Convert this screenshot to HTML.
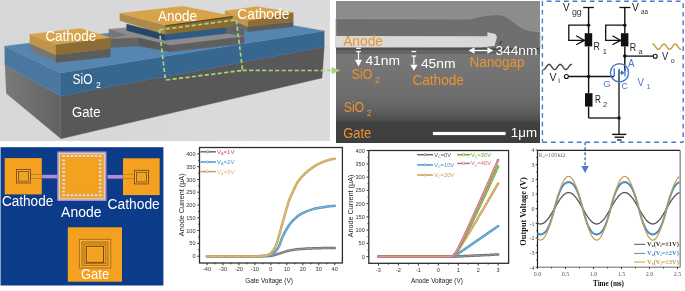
<!DOCTYPE html>
<html><head><meta charset="utf-8"><style>
html,body{margin:0;padding:0;background:#fff;}
svg{display:block;will-change:transform;}
</style></head><body>
<svg width="685" height="291" viewBox="0 0 685 291">
<rect width="685" height="291" fill="#fff"/>
<defs><linearGradient id="bgA" x1="0" y1="0" x2="1" y2="0"><stop offset="0" stop-color="#d7d7d7"/><stop offset="1" stop-color="#dbdbdb"/></linearGradient><linearGradient id="leftGate" x1="0" y1="0" x2="1" y2="0"><stop offset="0" stop-color="#7a7a7a"/><stop offset="1" stop-color="#626262"/></linearGradient><linearGradient id="semG" gradientUnits="userSpaceOnUse" x1="0" y1="1" x2="0" y2="143"><stop offset="0.44" stop-color="#767676"/><stop offset="0.66" stop-color="#6e6e6e"/><stop offset="0.76" stop-color="#626262"/><stop offset="0.845" stop-color="#4c4c4c"/><stop offset="0.852" stop-color="#414141"/><stop offset="1" stop-color="#3d3d3d"/></linearGradient></defs><rect x="0" y="0" width="330" height="141" fill="url(#bgA)"/><polygon points="4.9,64.8 60.6,96.0 60.8,138.8 6.2,93.6" fill="url(#leftGate)" /><polygon points="60.6,96.0 324.2,47.0 322.0,78.0 60.8,138.8" fill="#585858" stroke="#585858" stroke-width="0.35" stroke-linejoin="round" /><polygon points="4.7,46.2 60.4,72.9 60.6,96.0 4.9,64.8" fill="#4a77a0" stroke="#4a77a0" stroke-width="0.35" stroke-linejoin="round" /><polygon points="60.4,72.9 324.2,31.0 324.2,47.0 60.6,96.0" fill="#37668e" stroke="#37668e" stroke-width="0.35" stroke-linejoin="round" /><polygon points="4.7,46.2 241.0,16.2 324.2,31.0 60.4,72.9" fill="#5686b0" stroke="#5686b0" stroke-width="0.35" stroke-linejoin="round" /><polygon points="109.0,29.2 111.0,38.5 111.0,47.5 109.0,40.0" fill="#676767" stroke="#676767" stroke-width="0.35" stroke-linejoin="round" /><polygon points="111.0,38.5 139.0,37.5 139.0,46.0 111.0,47.5" fill="#636363" stroke="#636363" stroke-width="0.35" stroke-linejoin="round" /><polygon points="139.0,37.5 170.5,45.1 170.5,51.8 139.0,46.0" fill="#5a5a5a" stroke="#5a5a5a" stroke-width="0.35" stroke-linejoin="round" /><polygon points="170.5,45.1 244.0,36.3 244.0,43.5 170.5,51.8" fill="#5f5f5f" stroke="#5f5f5f" stroke-width="0.35" stroke-linejoin="round" /><polygon points="225.0,22.0 244.0,27.0 244.0,36.3 225.0,34.0" fill="#646464" stroke="#646464" stroke-width="0.35" stroke-linejoin="round" /><polygon points="109.0,29.2 126.6,27.7 126.6,30.4 165.3,40.3 226.0,33.6 244.0,36.3 170.5,45.1 139.0,37.5 111.0,38.5" fill="#8c8c8c" stroke="#8c8c8c" stroke-width="0.35" stroke-linejoin="round" /><polygon points="109.0,29.2 125.5,35.2 112.0,37.8" fill="#747474" stroke="#747474" stroke-width="0.35" stroke-linejoin="round" /><polygon points="29.9,43.5 56.0,54.9 56.0,62.4 29.9,50.5" fill="#767676" stroke="#767676" stroke-width="0.35" stroke-linejoin="round" /><polygon points="56.0,54.9 110.3,48.5 110.3,57.0 56.0,62.4" fill="#5c5c5c" stroke="#5c5c5c" stroke-width="0.35" stroke-linejoin="round" /><polygon points="29.9,34.3 56.0,44.5 56.0,54.9 29.9,43.5" fill="#bf9549" stroke="#bf9549" stroke-width="0.35" stroke-linejoin="round" /><polygon points="56.0,44.5 110.3,37.4 110.3,48.5 56.0,54.9" fill="#8d6d35" stroke="#8d6d35" stroke-width="0.35" stroke-linejoin="round" /><polygon points="29.9,34.3 80.5,28.4 110.3,37.4 56.0,44.5" fill="#d8a44b" stroke="#d8a44b" stroke-width="0.35" stroke-linejoin="round" /><polygon points="225.0,17.5 248.0,26.8 248.0,31.8 225.0,22.5" fill="#6a6a6a" stroke="#6a6a6a" stroke-width="0.35" stroke-linejoin="round" /><polygon points="248.0,26.8 293.2,21.7 293.2,26.7 248.0,31.8" fill="#5c5c5c" stroke="#5c5c5c" stroke-width="0.35" stroke-linejoin="round" /><polygon points="225.0,10.9 248.0,20.6 248.0,26.8 225.0,17.5" fill="#c39747" stroke="#c39747" stroke-width="0.35" stroke-linejoin="round" /><polygon points="248.0,20.6 293.2,12.4 293.2,21.7 248.0,26.8" fill="#8d6d35" stroke="#8d6d35" stroke-width="0.35" stroke-linejoin="round" /><polygon points="225.0,10.9 256.6,6.6 293.2,12.4 248.0,20.6" fill="#d8a44b" stroke="#d8a44b" stroke-width="0.35" stroke-linejoin="round" /><polygon points="126.6,24.1 165.3,34.3 165.3,40.5 126.6,30.4" fill="#284766" stroke="#284766" stroke-width="0.35" stroke-linejoin="round" /><polygon points="165.3,34.1 226.0,26.6 226.0,33.6 165.3,40.3" fill="#2f5b82" stroke="#2f5b82" stroke-width="0.35" stroke-linejoin="round" /><polygon points="119.8,13.3 165.5,25.3 165.5,34.4 119.8,20.6" fill="#ab8a4e" stroke="#ab8a4e" stroke-width="0.35" stroke-linejoin="round" /><polygon points="165.5,25.3 232.5,16.1 232.5,26.6 165.5,34.2" fill="#8c6b33" stroke="#8c6b33" stroke-width="0.35" stroke-linejoin="round" /><polygon points="119.8,13.3 182.9,6.2 232.5,16.1 165.5,25.3" fill="#d8a44b" stroke="#d8a44b" stroke-width="0.35" stroke-linejoin="round" /><line x1="165.5" y1="25.9" x2="232.5" y2="16.7" stroke="#5e4620" stroke-width="1.3"/><text x="45.4" y="40.5" font-size="14.7" fill="#fff" text-anchor="start" font-family='"Liberation Sans", sans-serif' font-weight="normal" textLength="50.9" lengthAdjust="spacingAndGlyphs" >Cathode</text><text x="158.1" y="20.5" font-size="14.7" fill="#fff" text-anchor="start" font-family='"Liberation Sans", sans-serif' font-weight="normal" textLength="39" lengthAdjust="spacingAndGlyphs" >Anode</text><text x="237.3" y="19.2" font-size="15.0" fill="#fff" text-anchor="start" font-family='"Liberation Sans", sans-serif' font-weight="normal" textLength="52" lengthAdjust="spacingAndGlyphs" >Cathode</text><text x="72.5" y="84.2" font-size="14.5" fill="#fff" text-anchor="start" font-family='"Liberation Sans", sans-serif' font-weight="normal" textLength="20" lengthAdjust="spacingAndGlyphs" >SiO</text><text x="95.9" y="87.7" font-size="8.4" fill="#fff" text-anchor="start" font-family='"Liberation Sans", sans-serif' font-weight="normal" textLength="4.8" lengthAdjust="spacingAndGlyphs" >2</text><text x="72" y="116.6" font-size="14.7" fill="#fff" text-anchor="start" font-family='"Liberation Sans", sans-serif' font-weight="normal" textLength="28.5" lengthAdjust="spacingAndGlyphs" >Gate</text><polyline points="159.4,29.8 236.3,19.8 242.6,70.4 165.4,80.1 159.4,29.8" fill="none" stroke="#a6d37c" stroke-width="1.7" stroke-dasharray="4.2,2.3"/><line x1="242.6" y1="70.4" x2="333" y2="70.5" stroke="#a6d37c" stroke-width="1.6" stroke-dasharray="4.2,2.3"/><rect x="336" y="1" width="204" height="142" fill="url(#semG)"/><rect x="336" y="1" width="204" height="34" fill="#8c8c8c"/><path d="M336,18.5 L470,18.9 C480,16 490,14.5 499,14.6 C508,15 512,22 521.5,27.5 C528,30.5 534,31.5 540,31.8 L540,48 L336,48 Z" fill="#6f6f6f" stroke="#999" stroke-width="0.8"/><path d="M336,36 L487.4,36.3 L487.4,32.3 L495.4,33.9 L497,37 L494.6,46 L480,47.6 L336,47.8 Z" fill="#d9d9d9"/><rect x="336" y="47.6" width="204" height="2.4" fill="#525252"/><rect x="336" y="50" width="204" height="4" fill="#646464"/><rect x="336" y="54" width="204" height="10" fill="#777"/><text x="343.2" y="45.7" font-size="14.0" fill="#ee9230" text-anchor="start" font-family='"Liberation Sans", sans-serif' font-weight="normal" textLength="39.8" lengthAdjust="spacingAndGlyphs" >Anode</text><text x="351.8" y="78.9" font-size="14.0" fill="#ee9230" text-anchor="start" font-family='"Liberation Sans", sans-serif' font-weight="normal" textLength="20.5" lengthAdjust="spacingAndGlyphs" >SiO</text><text x="375" y="82.6" font-size="8.5" fill="#ee9230" text-anchor="start" font-family='"Liberation Sans", sans-serif' font-weight="normal" >2</text><text x="412.4" y="84.6" font-size="14.0" fill="#ee9230" text-anchor="start" font-family='"Liberation Sans", sans-serif' font-weight="normal" textLength="51.5" lengthAdjust="spacingAndGlyphs" >Cathode</text><text x="343.7" y="112.2" font-size="14.0" fill="#ee9230" text-anchor="start" font-family='"Liberation Sans", sans-serif' font-weight="normal" textLength="20.5" lengthAdjust="spacingAndGlyphs" >SiO</text><text x="366.8" y="115.5" font-size="8.5" fill="#ee9230" text-anchor="start" font-family='"Liberation Sans", sans-serif' font-weight="normal" >2</text><text x="343.2" y="138.3" font-size="14.0" fill="#ee9230" text-anchor="start" font-family='"Liberation Sans", sans-serif' font-weight="normal" textLength="28" lengthAdjust="spacingAndGlyphs" >Gate</text><text x="469.6" y="67" font-size="14.0" fill="#ee9230" text-anchor="start" font-family='"Liberation Sans", sans-serif' font-weight="normal" textLength="54.9" lengthAdjust="spacingAndGlyphs" >Nanogap</text><text x="365.4" y="64.8" font-size="13.6" fill="#fff" text-anchor="start" font-family='"Liberation Sans", sans-serif' font-weight="normal" textLength="34.6" lengthAdjust="spacingAndGlyphs" >41nm</text><text x="420.9" y="68.4" font-size="13.6" fill="#fff" text-anchor="start" font-family='"Liberation Sans", sans-serif' font-weight="normal" textLength="34.6" lengthAdjust="spacingAndGlyphs" >45nm</text><text x="495.4" y="54.9" font-size="12.5" fill="#fff" text-anchor="start" font-family='"Liberation Sans", sans-serif' font-weight="normal" textLength="42" lengthAdjust="spacingAndGlyphs" >344nm</text><text x="510.8" y="137.2" font-size="13.1" fill="#fff" text-anchor="start" font-family='"Liberation Sans", sans-serif' font-weight="normal" textLength="26.2" lengthAdjust="spacingAndGlyphs" >1μm</text><rect x="356.2" y="47.6" width="4.6" height="1.3" fill="#fff"/><rect x="356.2" y="50.9" width="4.6" height="1.3" fill="#fff"/><line x1="358.5" y1="51.5" x2="358.5" y2="59.8" stroke="#fff" stroke-width="1.2"/><polygon points="354.9,59.8 362.1,59.8 358.5,66.4" fill="#fff"/><rect x="411.59999999999997" y="50.9" width="4.6" height="1.3" fill="#fff"/><rect x="411.59999999999997" y="55.4" width="4.6" height="1.3" fill="#fff"/><line x1="413.9" y1="56" x2="413.9" y2="64.8" stroke="#fff" stroke-width="1.2"/><polygon points="410.29999999999995,64.8 417.5,64.8 413.9,70.8" fill="#fff"/><line x1="471" y1="50.5" x2="491" y2="50.5" stroke="#fff" stroke-width="1.3"/><polygon points="468.6,50.5 474.5,47.3 474.5,53.7" fill="#fff"/><polygon points="493.3,50.5 487.4,47.3 487.4,53.7" fill="#fff"/><line x1="499.5" y1="44.4" x2="502" y2="41" stroke="#2a2a2a" stroke-width="1"/><rect x="432.9" y="131.9" width="72.7" height="3.2" fill="#fff"/><polygon points="331.5,67 340.5,70.5 331.5,74" fill="#a6d37c"/><line x1="542.4" y1="1.3" x2="683.2" y2="1.3" stroke="#4a78cc" stroke-width="1.4" stroke-dasharray="4.7,3.9" stroke-dashoffset="4.2"/><line x1="683.2" y1="1.3" x2="683.2" y2="142.3" stroke="#4a78cc" stroke-width="1.4" stroke-dasharray="4.7,3.9" stroke-dashoffset="-2"/><line x1="542.4" y1="142.3" x2="683.2" y2="142.3" stroke="#4a78cc" stroke-width="1.4" stroke-dasharray="4.7,3.9" stroke-dashoffset="0"/><line x1="542.4" y1="1.3" x2="542.4" y2="142.3" stroke="#4a78cc" stroke-width="1.4" stroke-dasharray="4.7,3.9" stroke-dashoffset="0"/><line x1="583.2" y1="7.5" x2="593.9" y2="7.5" stroke="#111" stroke-width="1.3"/><line x1="588.6" y1="7.5" x2="588.6" y2="33.2" stroke="#111" stroke-width="1.4"/><text x="563.1" y="11" font-size="11.4" fill="#222" text-anchor="start" font-family='"Liberation Sans", sans-serif' font-weight="normal" textLength="6.6" lengthAdjust="spacingAndGlyphs" >V</text><text x="571.9" y="14.9" font-size="9.5" fill="#333" text-anchor="start" font-family='"Liberation Sans", sans-serif' font-weight="normal" textLength="9.9" lengthAdjust="spacingAndGlyphs" >gg</text><line x1="619.4" y1="7.5" x2="630.4" y2="7.5" stroke="#111" stroke-width="1.3"/><line x1="624.8" y1="7.5" x2="624.8" y2="33.2" stroke="#111" stroke-width="1.4"/><text x="632" y="11" font-size="11.4" fill="#222" text-anchor="start" font-family='"Liberation Sans", sans-serif' font-weight="normal" textLength="6.8" lengthAdjust="spacingAndGlyphs" >V</text><text x="641" y="14.2" font-size="7.5" fill="#333" text-anchor="start" font-family='"Liberation Sans", sans-serif' font-weight="normal" textLength="7" lengthAdjust="spacingAndGlyphs" >aa</text><circle cx="588.6" cy="25.2" r="1.7" fill="#111"/><polyline points="588.6,25.2 568.8,25.2 568.8,40.4 584.5,40.4" fill="none" stroke="#111" stroke-width="1.3"/><polyline points="576.2,35.7 584.5,40.4 576.2,44.8" fill="none" stroke="#111" stroke-width="1.3"/><rect x="584.7" y="33.2" width="7.5" height="13.2" fill="#111"/><circle cx="624.8" cy="25.2" r="1.7" fill="#111"/><polyline points="624.8,25.2 605.7,25.2 605.7,40.4 620.6999999999999,40.4" fill="none" stroke="#111" stroke-width="1.3"/><polyline points="612.4,35.7 620.6999999999999,40.4 612.4,44.8" fill="none" stroke="#111" stroke-width="1.3"/><rect x="620.9" y="33.2" width="7.5" height="13.2" fill="#111"/><text x="593.6" y="50.3" font-size="10.5" fill="#222" text-anchor="start" font-family='"Liberation Sans", sans-serif' font-weight="normal" textLength="6.4" lengthAdjust="spacingAndGlyphs" >R</text><text x="602.7" y="53.6" font-size="7.5" fill="#333" text-anchor="start" font-family='"Liberation Sans", sans-serif' font-weight="normal" >1</text><text x="629.8" y="50.6" font-size="10.5" fill="#222" text-anchor="start" font-family='"Liberation Sans", sans-serif' font-weight="normal" textLength="6.4" lengthAdjust="spacingAndGlyphs" >R</text><text x="638.5" y="53.7" font-size="7.5" fill="#333" text-anchor="start" font-family='"Liberation Sans", sans-serif' font-weight="normal" >a</text><line x1="588.6" y1="46.4" x2="588.6" y2="93.2" stroke="#111" stroke-width="1.4"/><line x1="588.6" y1="106.6" x2="588.6" y2="118" stroke="#111" stroke-width="1.4"/><line x1="588.6" y1="118" x2="619" y2="118" stroke="#111" stroke-width="1.3"/><line x1="624.8" y1="46.4" x2="624.8" y2="71.3" stroke="#111" stroke-width="1.4"/><circle cx="624.8" cy="56.1" r="1.8" fill="#111"/><line x1="624.8" y1="56.1" x2="653.2" y2="56.1" stroke="#111" stroke-width="1.3"/><circle cx="655.2" cy="56.2" r="2" fill="#fff" stroke="#111" stroke-width="1.1"/><line x1="568.5" y1="76.5" x2="614" y2="76.5" stroke="#111" stroke-width="1.3"/><circle cx="566.4" cy="76.5" r="2" fill="#fff" stroke="#111" stroke-width="1.1"/><circle cx="588.6" cy="76.5" r="1.8" fill="#111"/><rect x="585" y="93.2" width="7.5" height="13.4" fill="#111"/><line x1="619" y1="70" x2="619" y2="134.4" stroke="#222" stroke-width="1.4"/><circle cx="619" cy="118" r="1.7" fill="#111"/><line x1="612.2" y1="134.4" x2="626.3" y2="134.4" stroke="#111" stroke-width="1.4"/><line x1="614.6" y1="137.2" x2="624" y2="137.2" stroke="#111" stroke-width="1.4"/><line x1="617" y1="140" x2="621.6" y2="140" stroke="#111" stroke-width="1.3"/><circle cx="619.5" cy="72.8" r="9.1" fill="none" stroke="#4a78cc" stroke-width="1.4"/><line x1="614.3" y1="68.2" x2="614.3" y2="75.9" stroke="#4a78cc" stroke-width="1.4"/><line x1="619.3" y1="72.8" x2="622.5" y2="72.8" stroke="#4a78cc" stroke-width="1.2"/><polygon points="621,70.3 625,72.8 621,75.3" fill="#4a78cc"/><line x1="625" y1="68.5" x2="625" y2="76.5" stroke="#4a78cc" stroke-width="1.3"/><line x1="619.3" y1="68.5" x2="619.3" y2="77" stroke="#4a78cc" stroke-width="1.3"/><text x="549.4" y="80.7" font-size="10.7" fill="#222" text-anchor="start" font-family='"Liberation Sans", sans-serif' font-weight="normal" textLength="7" lengthAdjust="spacingAndGlyphs" >V</text><text x="558.2" y="83.3" font-size="7.5" fill="#333" text-anchor="start" font-family='"Liberation Sans", sans-serif' font-weight="normal" >i</text><text x="603.2" y="86.5" font-size="9.2" fill="#4a78cc" text-anchor="start" font-family='"Liberation Sans", sans-serif' font-weight="normal" textLength="7.4" lengthAdjust="spacingAndGlyphs" >G</text><text x="621.6" y="88.6" font-size="9.4" fill="#4a78cc" text-anchor="start" font-family='"Liberation Sans", sans-serif' font-weight="normal" textLength="6.4" lengthAdjust="spacingAndGlyphs" >C</text><text x="627.9" y="66.6" font-size="10.3" fill="#4a78cc" text-anchor="start" font-family='"Liberation Sans", sans-serif' font-weight="normal" textLength="6.5" lengthAdjust="spacingAndGlyphs" >A</text><text x="637.5" y="85.5" font-size="10.6" fill="#4a78cc" text-anchor="start" font-family='"Liberation Sans", sans-serif' font-weight="normal" textLength="6.5" lengthAdjust="spacingAndGlyphs" >V</text><text x="646.6" y="88.7" font-size="7.5" fill="#4a78cc" text-anchor="start" font-family='"Liberation Sans", sans-serif' font-weight="normal" >1</text><text x="595" y="103.4" font-size="10.5" fill="#222" text-anchor="start" font-family='"Liberation Sans", sans-serif' font-weight="normal" textLength="5.9" lengthAdjust="spacingAndGlyphs" >R</text><text x="603" y="106.6" font-size="7.5" fill="#333" text-anchor="start" font-family='"Liberation Sans", sans-serif' font-weight="normal" >2</text><text x="662" y="59.9" font-size="10.4" fill="#222" text-anchor="start" font-family='"Liberation Sans", sans-serif' font-weight="normal" textLength="6.2" lengthAdjust="spacingAndGlyphs" >V</text><text x="670.7" y="63" font-size="7" fill="#333" text-anchor="start" font-family='"Liberation Sans", sans-serif' font-weight="normal" >o</text><polyline points="543.5,69.6 544.0,69.5 544.4,69.2 544.9,68.8 545.4,68.2 545.9,67.6 546.3,66.9 546.8,66.2 547.3,65.6 547.8,65.1 548.2,64.7 548.7,64.5 549.2,64.4 549.7,64.5 550.1,64.9 550.6,65.3 551.1,65.9 551.6,66.6 552.0,67.3 552.5,67.9 553.0,68.5 553.5,69.0 553.9,69.4 554.4,69.6 554.9,69.6 555.4,69.4 555.8,69.0 556.3,68.5 556.8,67.9 557.3,67.3 557.7,66.6 558.2,65.9 558.7,65.3 559.2,64.9 559.6,64.5 560.1,64.4 560.6,64.5 561.1,64.7 561.5,65.1 562.0,65.6 562.5,66.2 563.0,66.9 563.4,67.6 563.9,68.3 564.4,68.8 564.9,69.2 565.3,69.5 565.8,69.6 566.3,69.5 566.8,69.2 567.2,68.8 567.7,68.2 568.2,67.6 568.7,66.9 569.1,66.2 569.6,65.6 570.1,65.1 570.6,64.7 571.0,64.5 571.5,64.4" fill="none" stroke="#444" stroke-width="1.4" stroke-linecap="round"/><polyline points="652.7,44.1 653.2,44.1 653.6,44.4 654.1,44.8 654.6,45.4 655.1,46.1 655.5,46.8 656.0,47.4 656.5,48.1 657.0,48.6 657.4,49.0 657.9,49.3 658.4,49.3 658.9,49.2 659.3,48.9 659.8,48.5 660.3,47.9 660.8,47.2 661.2,46.5 661.7,45.9 662.2,45.2 662.7,44.7 663.1,44.3 663.6,44.1 664.1,44.1 664.6,44.2 665.0,44.5 665.5,45.0 666.0,45.6 666.5,46.3 666.9,47.0 667.4,47.6 667.9,48.3 668.4,48.8 668.8,49.1 669.3,49.3 669.8,49.3 670.3,49.2 670.7,48.8 671.2,48.3 671.7,47.7 672.2,47.0 672.6,46.3 673.1,45.7 673.6,45.1 674.1,44.6 674.5,44.2 675.0,44.1 675.5,44.1 676.0,44.3 676.4,44.6 676.9,45.2 677.4,45.8 677.9,46.5 678.3,47.2 678.8,47.8 679.3,48.4 679.8,48.9 680.2,49.2 680.7,49.3" fill="none" stroke="#c49a3c" stroke-width="1.4" stroke-linecap="round"/><line x1="585.1" y1="142.3" x2="585.1" y2="166" stroke="#4a78cc" stroke-width="1.5" stroke-dasharray="3,2"/><polygon points="581.3,166 588.8,166 585.1,172.9" fill="#4a78cc"/><rect x="0" y="147.2" width="1.2" height="138.3" fill="#8ea2c4"/><rect x="1" y="147.2" width="162.4" height="138.3" fill="#0b3b89"/><rect x="4.7" y="158.1" width="37.1" height="36.3" fill="#f4a11f"/><rect x="123" y="158.3" width="36.7" height="36.8" fill="#f4a11f"/><rect x="41.9" y="174.8" width="15.5" height="3.6" fill="#b48ad4"/><rect x="107.5" y="175" width="15.5" height="3.7" fill="#b48ad4"/><rect x="30.8" y="174.6" width="11.1" height="3.8" fill="#eea52a" stroke="#a06818" stroke-width="0.5"/><rect x="123" y="174.8" width="11.5" height="3.8" fill="#eea52a" stroke="#a06818" stroke-width="0.5"/><rect x="16.5" y="169.5" width="14" height="13.5" fill="#f3ae3a" stroke="#7a4c12" stroke-width="0.9"/><rect x="18.4" y="171.4" width="10.2" height="9.8" fill="#f0a424" stroke="#7a4c12" stroke-width="0.8"/><rect x="134.5" y="170.3" width="14" height="13.6" fill="#f3ae3a" stroke="#7a4c12" stroke-width="0.9"/><rect x="136.4" y="172.2" width="10.2" height="9.8" fill="#f0a424" stroke="#7a4c12" stroke-width="0.8"/><rect x="57.3" y="151.5" width="49.2" height="49.4" fill="#b597cf"/><rect x="58.8" y="153" width="46.2" height="46.4" fill="#e3cfae"/><rect x="60" y="154.2" width="43.8" height="44" fill="#eba032"/><rect x="62.3" y="155.1" width="2.8" height="2" rx="0.6" fill="#e8dcc0"/><rect x="62.3" y="194.2" width="2.8" height="2" rx="0.6" fill="#e8dcc0"/><rect x="66.3" y="155.1" width="2.8" height="2" rx="0.6" fill="#e8dcc0"/><rect x="66.3" y="194.2" width="2.8" height="2" rx="0.6" fill="#e8dcc0"/><rect x="70.4" y="155.1" width="2.8" height="2" rx="0.6" fill="#e8dcc0"/><rect x="70.4" y="194.2" width="2.8" height="2" rx="0.6" fill="#e8dcc0"/><rect x="74.4" y="155.1" width="2.8" height="2" rx="0.6" fill="#e8dcc0"/><rect x="74.4" y="194.2" width="2.8" height="2" rx="0.6" fill="#e8dcc0"/><rect x="78.5" y="155.1" width="2.8" height="2" rx="0.6" fill="#e8dcc0"/><rect x="78.5" y="194.2" width="2.8" height="2" rx="0.6" fill="#e8dcc0"/><rect x="82.5" y="155.1" width="2.8" height="2" rx="0.6" fill="#e8dcc0"/><rect x="82.5" y="194.2" width="2.8" height="2" rx="0.6" fill="#e8dcc0"/><rect x="86.6" y="155.1" width="2.8" height="2" rx="0.6" fill="#e8dcc0"/><rect x="86.6" y="194.2" width="2.8" height="2" rx="0.6" fill="#e8dcc0"/><rect x="90.6" y="155.1" width="2.8" height="2" rx="0.6" fill="#e8dcc0"/><rect x="90.6" y="194.2" width="2.8" height="2" rx="0.6" fill="#e8dcc0"/><rect x="94.7" y="155.1" width="2.8" height="2" rx="0.6" fill="#e8dcc0"/><rect x="94.7" y="194.2" width="2.8" height="2" rx="0.6" fill="#e8dcc0"/><rect x="98.8" y="155.1" width="2.8" height="2" rx="0.6" fill="#e8dcc0"/><rect x="98.8" y="194.2" width="2.8" height="2" rx="0.6" fill="#e8dcc0"/><rect x="62.3" y="159.4" width="2.8" height="2" rx="0.6" fill="#e8dcc0"/><rect x="98.8" y="159.4" width="2.8" height="2" rx="0.6" fill="#e8dcc0"/><rect x="62.3" y="163.3" width="2.8" height="2" rx="0.6" fill="#e8dcc0"/><rect x="98.8" y="163.3" width="2.8" height="2" rx="0.6" fill="#e8dcc0"/><rect x="62.3" y="167.2" width="2.8" height="2" rx="0.6" fill="#e8dcc0"/><rect x="98.8" y="167.2" width="2.8" height="2" rx="0.6" fill="#e8dcc0"/><rect x="62.3" y="171.1" width="2.8" height="2" rx="0.6" fill="#e8dcc0"/><rect x="98.8" y="171.1" width="2.8" height="2" rx="0.6" fill="#e8dcc0"/><rect x="62.3" y="175.0" width="2.8" height="2" rx="0.6" fill="#e8dcc0"/><rect x="98.8" y="175.0" width="2.8" height="2" rx="0.6" fill="#e8dcc0"/><rect x="62.3" y="178.9" width="2.8" height="2" rx="0.6" fill="#e8dcc0"/><rect x="98.8" y="178.9" width="2.8" height="2" rx="0.6" fill="#e8dcc0"/><rect x="62.3" y="182.8" width="2.8" height="2" rx="0.6" fill="#e8dcc0"/><rect x="98.8" y="182.8" width="2.8" height="2" rx="0.6" fill="#e8dcc0"/><rect x="62.3" y="186.7" width="2.8" height="2" rx="0.6" fill="#e8dcc0"/><rect x="98.8" y="186.7" width="2.8" height="2" rx="0.6" fill="#e8dcc0"/><rect x="62.3" y="190.6" width="2.8" height="2" rx="0.6" fill="#e8dcc0"/><rect x="98.8" y="190.6" width="2.8" height="2" rx="0.6" fill="#e8dcc0"/><rect x="66.5" y="159.5" width="31.8" height="32.3" fill="#f4a11f"/><rect x="67.8" y="227.3" width="54.2" height="54.4" fill="#f4a11f"/><rect x="79.3" y="239.3" width="31.5" height="28.7" fill="none" stroke="#9a6418" stroke-width="0.8"/><rect x="80.6" y="240.6" width="28.9" height="26.1" fill="none" stroke="#f6bb55" stroke-width="0.6"/><rect x="82" y="242" width="26.0" height="23.3" fill="none" stroke="#8e5c16" stroke-width="0.7"/><rect x="84" y="244" width="21.8" height="19.5" fill="none" stroke="#8e5c16" stroke-width="0.7"/><rect x="86.3" y="246.3" width="17.2" height="16.0" fill="none" stroke="#6e4410" stroke-width="1.0"/><rect x="87.6" y="247.6" width="14.6" height="13.4" fill="none" stroke="#f3b044" stroke-width="0.6"/><text x="1.9" y="206.1" font-size="14.9" fill="#fff" text-anchor="start" font-family='"Liberation Sans", sans-serif' font-weight="normal" textLength="51.4" lengthAdjust="spacingAndGlyphs" >Cathode</text><text x="107.6" y="208.6" font-size="14.9" fill="#fff" text-anchor="start" font-family='"Liberation Sans", sans-serif' font-weight="normal" textLength="52.2" lengthAdjust="spacingAndGlyphs" >Cathode</text><text x="61.1" y="216.7" font-size="14.9" fill="#fff" text-anchor="start" font-family='"Liberation Sans", sans-serif' font-weight="normal" textLength="40.3" lengthAdjust="spacingAndGlyphs" >Anode</text><text x="81" y="279.2" font-size="14.7" fill="#fff" text-anchor="start" font-family='"Liberation Sans", sans-serif' font-weight="normal" textLength="28.2" lengthAdjust="spacingAndGlyphs" >Gate</text>
<rect x="199.5" y="147.5" width="142.9" height="115.5" fill="none" stroke="#2e2e2e" stroke-width="1.3"/><line x1="207.0" y1="263" x2="207.0" y2="265.2" stroke="#2e2e2e" stroke-width="1"/><text x="207.0" y="270.5" font-size="5.6" fill="#333" text-anchor="middle" font-family='"Liberation Sans", sans-serif' font-weight="normal" >-40</text><line x1="215.0" y1="263" x2="215.0" y2="264.3" stroke="#2e2e2e" stroke-width="1"/><line x1="223.0" y1="263" x2="223.0" y2="265.2" stroke="#2e2e2e" stroke-width="1"/><text x="223.0" y="270.5" font-size="5.6" fill="#333" text-anchor="middle" font-family='"Liberation Sans", sans-serif' font-weight="normal" >-30</text><line x1="230.9" y1="263" x2="230.9" y2="264.3" stroke="#2e2e2e" stroke-width="1"/><line x1="238.9" y1="263" x2="238.9" y2="265.2" stroke="#2e2e2e" stroke-width="1"/><text x="238.9" y="270.5" font-size="5.6" fill="#333" text-anchor="middle" font-family='"Liberation Sans", sans-serif' font-weight="normal" >-20</text><line x1="246.9" y1="263" x2="246.9" y2="264.3" stroke="#2e2e2e" stroke-width="1"/><line x1="254.9" y1="263" x2="254.9" y2="265.2" stroke="#2e2e2e" stroke-width="1"/><text x="254.9" y="270.5" font-size="5.6" fill="#333" text-anchor="middle" font-family='"Liberation Sans", sans-serif' font-weight="normal" >-10</text><line x1="262.9" y1="263" x2="262.9" y2="264.3" stroke="#2e2e2e" stroke-width="1"/><line x1="270.9" y1="263" x2="270.9" y2="265.2" stroke="#2e2e2e" stroke-width="1"/><text x="270.9" y="270.5" font-size="5.6" fill="#333" text-anchor="middle" font-family='"Liberation Sans", sans-serif' font-weight="normal" >0</text><line x1="278.8" y1="263" x2="278.8" y2="264.3" stroke="#2e2e2e" stroke-width="1"/><line x1="286.8" y1="263" x2="286.8" y2="265.2" stroke="#2e2e2e" stroke-width="1"/><text x="286.8" y="270.5" font-size="5.6" fill="#333" text-anchor="middle" font-family='"Liberation Sans", sans-serif' font-weight="normal" >10</text><line x1="294.8" y1="263" x2="294.8" y2="264.3" stroke="#2e2e2e" stroke-width="1"/><line x1="302.8" y1="263" x2="302.8" y2="265.2" stroke="#2e2e2e" stroke-width="1"/><text x="302.8" y="270.5" font-size="5.6" fill="#333" text-anchor="middle" font-family='"Liberation Sans", sans-serif' font-weight="normal" >20</text><line x1="310.8" y1="263" x2="310.8" y2="264.3" stroke="#2e2e2e" stroke-width="1"/><line x1="318.7" y1="263" x2="318.7" y2="265.2" stroke="#2e2e2e" stroke-width="1"/><text x="318.7" y="270.5" font-size="5.6" fill="#333" text-anchor="middle" font-family='"Liberation Sans", sans-serif' font-weight="normal" >30</text><line x1="326.7" y1="263" x2="326.7" y2="264.3" stroke="#2e2e2e" stroke-width="1"/><line x1="334.7" y1="263" x2="334.7" y2="265.2" stroke="#2e2e2e" stroke-width="1"/><text x="334.7" y="270.5" font-size="5.6" fill="#333" text-anchor="middle" font-family='"Liberation Sans", sans-serif' font-weight="normal" >40</text><line x1="197.3" y1="256.2" x2="199.5" y2="256.2" stroke="#2e2e2e" stroke-width="1"/><text x="195.6" y="258.2" font-size="5.6" fill="#333" text-anchor="end" font-family='"Liberation Sans", sans-serif' font-weight="normal" >0</text><line x1="198.2" y1="249.8" x2="199.5" y2="249.8" stroke="#2e2e2e" stroke-width="1"/><line x1="197.3" y1="243.4" x2="199.5" y2="243.4" stroke="#2e2e2e" stroke-width="1"/><text x="195.6" y="245.4" font-size="5.6" fill="#333" text-anchor="end" font-family='"Liberation Sans", sans-serif' font-weight="normal" >50</text><line x1="198.2" y1="237.0" x2="199.5" y2="237.0" stroke="#2e2e2e" stroke-width="1"/><line x1="197.3" y1="230.6" x2="199.5" y2="230.6" stroke="#2e2e2e" stroke-width="1"/><text x="195.6" y="232.6" font-size="5.6" fill="#333" text-anchor="end" font-family='"Liberation Sans", sans-serif' font-weight="normal" >100</text><line x1="198.2" y1="224.2" x2="199.5" y2="224.2" stroke="#2e2e2e" stroke-width="1"/><line x1="197.3" y1="217.8" x2="199.5" y2="217.8" stroke="#2e2e2e" stroke-width="1"/><text x="195.6" y="219.8" font-size="5.6" fill="#333" text-anchor="end" font-family='"Liberation Sans", sans-serif' font-weight="normal" >150</text><line x1="198.2" y1="211.4" x2="199.5" y2="211.4" stroke="#2e2e2e" stroke-width="1"/><line x1="197.3" y1="205.0" x2="199.5" y2="205.0" stroke="#2e2e2e" stroke-width="1"/><text x="195.6" y="207.0" font-size="5.6" fill="#333" text-anchor="end" font-family='"Liberation Sans", sans-serif' font-weight="normal" >200</text><line x1="198.2" y1="198.6" x2="199.5" y2="198.6" stroke="#2e2e2e" stroke-width="1"/><line x1="197.3" y1="192.2" x2="199.5" y2="192.2" stroke="#2e2e2e" stroke-width="1"/><text x="195.6" y="194.2" font-size="5.6" fill="#333" text-anchor="end" font-family='"Liberation Sans", sans-serif' font-weight="normal" >250</text><line x1="198.2" y1="185.9" x2="199.5" y2="185.9" stroke="#2e2e2e" stroke-width="1"/><line x1="197.3" y1="179.5" x2="199.5" y2="179.5" stroke="#2e2e2e" stroke-width="1"/><text x="195.6" y="181.5" font-size="5.6" fill="#333" text-anchor="end" font-family='"Liberation Sans", sans-serif' font-weight="normal" >300</text><line x1="198.2" y1="173.1" x2="199.5" y2="173.1" stroke="#2e2e2e" stroke-width="1"/><line x1="197.3" y1="166.7" x2="199.5" y2="166.7" stroke="#2e2e2e" stroke-width="1"/><text x="195.6" y="168.7" font-size="5.6" fill="#333" text-anchor="end" font-family='"Liberation Sans", sans-serif' font-weight="normal" >350</text><line x1="198.2" y1="160.3" x2="199.5" y2="160.3" stroke="#2e2e2e" stroke-width="1"/><line x1="197.3" y1="153.9" x2="199.5" y2="153.9" stroke="#2e2e2e" stroke-width="1"/><text x="195.6" y="155.9" font-size="5.6" fill="#333" text-anchor="end" font-family='"Liberation Sans", sans-serif' font-weight="normal" >400</text><text x="269" y="282.5" font-size="6.6" fill="#222" text-anchor="middle" font-family='"Liberation Sans", sans-serif' font-weight="normal" textLength="47.7" lengthAdjust="spacingAndGlyphs" >Gate Voltage (V)</text><text transform="translate(184.2,204.8) rotate(-90)" font-size="6.6" fill="#222" text-anchor="middle" font-family='"Liberation Sans", sans-serif' textLength="62.7" lengthAdjust="spacingAndGlyphs">Anode Current  (μA)</text><polyline points="207.0,256.2 208.1,256.2 209.1,256.2 210.2,256.2 211.3,256.2 212.4,256.2 213.4,256.2 214.5,256.2 215.6,256.2 216.7,256.2 217.7,256.2 218.8,256.2 219.9,256.2 221.0,256.2 222.0,256.2 223.1,256.2 224.2,256.2 225.2,256.2 226.3,256.2 227.4,256.2 228.5,256.2 229.5,256.2 230.6,256.2 231.7,256.2 232.8,256.2 233.8,256.2 234.9,256.2 236.0,256.2 237.0,256.2 238.1,256.2 239.2,256.2 240.3,256.2 241.3,256.2 242.4,256.2 243.5,256.2 244.6,256.2 245.6,256.2 246.7,256.2 247.8,256.2 248.9,256.2 249.9,256.2 251.0,256.2 252.1,256.2 253.1,256.2 254.2,256.2 255.3,256.2 256.4,256.2 257.4,256.2 258.5,256.2 259.6,256.2 260.7,256.2 261.7,256.2 262.8,256.2 263.9,256.1 264.9,256.1 266.0,256.1 267.1,256.1 268.2,256.1 269.2,256.0 270.3,255.9 271.4,255.7 272.5,255.5 273.5,255.3 274.6,255.0 275.7,254.7 276.8,254.3 277.8,254.0 278.9,253.7 280.0,253.3 281.0,253.0 282.1,252.6 283.2,252.3 284.3,251.9 285.3,251.6 286.4,251.2 287.5,250.9 288.6,250.7 289.6,250.5 290.7,250.3 291.8,250.1 292.9,249.9 293.9,249.7 295.0,249.6 296.1,249.5 297.1,249.3 298.2,249.2 299.3,249.1 300.4,249.0 301.4,249.0 302.5,248.9 303.6,248.8 304.7,248.7 305.7,248.7 306.8,248.6 307.9,248.5 308.9,248.5 310.0,248.5 311.1,248.4 312.2,248.4 313.2,248.3 314.3,248.3 315.4,248.3 316.5,248.2 317.5,248.2 318.6,248.2 319.7,248.2 320.8,248.2 321.8,248.1 322.9,248.1 324.0,248.1 325.0,248.1 326.1,248.1 327.2,248.1 328.3,248.1 329.3,248.0 330.4,248.0 331.5,248.0 332.6,248.0 333.6,248.0 334.7,248.0" fill="none" stroke="#6a6a6a" stroke-width="2.5" stroke-linejoin="round" stroke-linecap="round"/><polyline points="207.0,256.2 208.1,256.2 209.1,256.2 210.2,256.2 211.3,256.2 212.4,256.2 213.4,256.2 214.5,256.2 215.6,256.2 216.7,256.2 217.7,256.2 218.8,256.2 219.9,256.2 221.0,256.2 222.0,256.2 223.1,256.2 224.2,256.2 225.2,256.2 226.3,256.2 227.4,256.2 228.5,256.2 229.5,256.2 230.6,256.2 231.7,256.2 232.8,256.2 233.8,256.2 234.9,256.2 236.0,256.2 237.0,256.2 238.1,256.2 239.2,256.2 240.3,256.2 241.3,256.2 242.4,256.2 243.5,256.2 244.6,256.2 245.6,256.2 246.7,256.2 247.8,256.2 248.9,256.2 249.9,256.2 251.0,256.2 252.1,256.2 253.1,256.2 254.2,256.2 255.3,256.2 256.4,256.2 257.4,256.2 258.5,256.2 259.6,256.2 260.7,256.2 261.7,256.2 262.8,256.2 263.9,256.1 264.9,256.1 266.0,256.1 267.1,256.1 268.2,256.1 269.2,256.0 270.3,255.9 271.4,255.7 272.5,255.5 273.5,255.3 274.6,255.0 275.7,254.7 276.8,254.3 277.8,254.0 278.9,253.7 280.0,253.3 281.0,253.0 282.1,252.6 283.2,252.3 284.3,251.9 285.3,251.6 286.4,251.2 287.5,250.9 288.6,250.7 289.6,250.5 290.7,250.3 291.8,250.1 292.9,249.9 293.9,249.7 295.0,249.6 296.1,249.5 297.1,249.3 298.2,249.2 299.3,249.1 300.4,249.0 301.4,249.0 302.5,248.9 303.6,248.8 304.7,248.7 305.7,248.7 306.8,248.6 307.9,248.5 308.9,248.5 310.0,248.5 311.1,248.4 312.2,248.4 313.2,248.3 314.3,248.3 315.4,248.3 316.5,248.2 317.5,248.2 318.6,248.2 319.7,248.2 320.8,248.2 321.8,248.1 322.9,248.1 324.0,248.1 325.0,248.1 326.1,248.1 327.2,248.1 328.3,248.1 329.3,248.0 330.4,248.0 331.5,248.0 332.6,248.0 333.6,248.0 334.7,248.0" fill="none" stroke="#fff" stroke-opacity="0.5" stroke-width="1.0" stroke-dasharray="1.1,0.5"/><polyline points="207.0,256.2 208.1,256.2 209.1,256.2 210.2,256.2 211.3,256.2 212.4,256.2 213.4,256.2 214.5,256.2 215.6,256.2 216.7,256.2 217.7,256.2 218.8,256.2 219.9,256.2 221.0,256.2 222.0,256.2 223.1,256.2 224.2,256.2 225.2,256.2 226.3,256.2 227.4,256.2 228.5,256.2 229.5,256.2 230.6,256.2 231.7,256.2 232.8,256.2 233.8,256.2 234.9,256.2 236.0,256.2 237.0,256.2 238.1,256.2 239.2,256.2 240.3,256.2 241.3,256.2 242.4,256.2 243.5,256.2 244.6,256.2 245.6,256.2 246.7,256.2 247.8,256.2 248.9,256.2 249.9,256.2 251.0,256.2 252.1,256.2 253.1,256.2 254.2,256.2 255.3,256.2 256.4,256.2 257.4,256.2 258.5,256.2 259.6,256.2 260.7,256.1 261.7,256.1 262.8,256.1 263.9,256.0 264.9,256.0 266.0,255.9 267.1,255.9 268.2,255.7 269.2,255.4 270.3,255.1 271.4,254.7 272.5,254.0 273.5,253.1 274.6,252.1 275.7,251.0 276.8,249.8 277.8,248.3 278.9,246.4 280.0,243.8 281.0,240.8 282.1,238.0 283.2,235.6 284.3,233.4 285.3,231.4 286.4,229.5 287.5,227.7 288.6,226.0 289.6,224.5 290.7,223.1 291.8,221.8 292.9,220.7 293.9,219.6 295.0,218.6 296.1,217.6 297.1,216.7 298.2,215.8 299.3,215.1 300.4,214.4 301.4,213.7 302.5,213.1 303.6,212.6 304.7,212.1 305.7,211.7 306.8,211.2 307.9,210.8 308.9,210.4 310.0,210.1 311.1,209.7 312.2,209.4 313.2,209.1 314.3,208.8 315.4,208.5 316.5,208.3 317.5,208.1 318.6,207.9 319.7,207.7 320.8,207.5 321.8,207.4 322.9,207.2 324.0,207.0 325.0,206.9 326.1,206.7 327.2,206.6 328.3,206.5 329.3,206.3 330.4,206.2 331.5,206.1 332.6,206.0 333.6,205.9 334.7,205.8" fill="none" stroke="#4d93c4" stroke-width="2.5" stroke-linejoin="round" stroke-linecap="round"/><polyline points="207.0,256.2 208.1,256.2 209.1,256.2 210.2,256.2 211.3,256.2 212.4,256.2 213.4,256.2 214.5,256.2 215.6,256.2 216.7,256.2 217.7,256.2 218.8,256.2 219.9,256.2 221.0,256.2 222.0,256.2 223.1,256.2 224.2,256.2 225.2,256.2 226.3,256.2 227.4,256.2 228.5,256.2 229.5,256.2 230.6,256.2 231.7,256.2 232.8,256.2 233.8,256.2 234.9,256.2 236.0,256.2 237.0,256.2 238.1,256.2 239.2,256.2 240.3,256.2 241.3,256.2 242.4,256.2 243.5,256.2 244.6,256.2 245.6,256.2 246.7,256.2 247.8,256.2 248.9,256.2 249.9,256.2 251.0,256.2 252.1,256.2 253.1,256.2 254.2,256.2 255.3,256.2 256.4,256.2 257.4,256.2 258.5,256.2 259.6,256.2 260.7,256.1 261.7,256.1 262.8,256.1 263.9,256.0 264.9,256.0 266.0,255.9 267.1,255.9 268.2,255.7 269.2,255.4 270.3,255.1 271.4,254.7 272.5,254.0 273.5,253.1 274.6,252.1 275.7,251.0 276.8,249.8 277.8,248.3 278.9,246.4 280.0,243.8 281.0,240.8 282.1,238.0 283.2,235.6 284.3,233.4 285.3,231.4 286.4,229.5 287.5,227.7 288.6,226.0 289.6,224.5 290.7,223.1 291.8,221.8 292.9,220.7 293.9,219.6 295.0,218.6 296.1,217.6 297.1,216.7 298.2,215.8 299.3,215.1 300.4,214.4 301.4,213.7 302.5,213.1 303.6,212.6 304.7,212.1 305.7,211.7 306.8,211.2 307.9,210.8 308.9,210.4 310.0,210.1 311.1,209.7 312.2,209.4 313.2,209.1 314.3,208.8 315.4,208.5 316.5,208.3 317.5,208.1 318.6,207.9 319.7,207.7 320.8,207.5 321.8,207.4 322.9,207.2 324.0,207.0 325.0,206.9 326.1,206.7 327.2,206.6 328.3,206.5 329.3,206.3 330.4,206.2 331.5,206.1 332.6,206.0 333.6,205.9 334.7,205.8" fill="none" stroke="#fff" stroke-opacity="0.5" stroke-width="1.0" stroke-dasharray="1.1,0.5"/><polyline points="207.0,256.2 208.1,256.2 209.1,256.2 210.2,256.2 211.3,256.2 212.4,256.2 213.4,256.2 214.5,256.2 215.6,256.2 216.7,256.2 217.7,256.2 218.8,256.2 219.9,256.2 221.0,256.2 222.0,256.2 223.1,256.2 224.2,256.2 225.2,256.2 226.3,256.2 227.4,256.2 228.5,256.2 229.5,256.2 230.6,256.2 231.7,256.2 232.8,256.2 233.8,256.2 234.9,256.2 236.0,256.2 237.0,256.2 238.1,256.2 239.2,256.2 240.3,256.2 241.3,256.2 242.4,256.2 243.5,256.2 244.6,256.2 245.6,256.2 246.7,256.2 247.8,256.2 248.9,256.2 249.9,256.2 251.0,256.2 252.1,256.2 253.1,256.2 254.2,256.2 255.3,256.2 256.4,256.2 257.4,256.2 258.5,256.2 259.6,256.1 260.7,256.1 261.7,256.0 262.8,256.0 263.9,255.9 264.9,255.7 266.0,255.4 267.1,255.1 268.2,254.6 269.2,254.1 270.3,253.5 271.4,252.6 272.5,251.4 273.5,250.0 274.6,248.2 275.7,246.0 276.8,243.5 277.8,240.1 278.9,236.2 280.0,232.4 281.0,228.5 282.1,224.4 283.2,220.5 284.3,216.7 285.3,213.0 286.4,209.2 287.5,205.4 288.6,201.9 289.6,199.0 290.7,196.6 291.8,194.2 292.9,191.8 293.9,189.4 295.0,187.1 296.1,185.0 297.1,183.0 298.2,181.3 299.3,179.9 300.4,178.5 301.4,177.3 302.5,176.1 303.6,175.0 304.7,173.9 305.7,172.9 306.8,172.0 307.9,171.1 308.9,170.3 310.0,169.4 311.1,168.6 312.2,167.9 313.2,167.1 314.3,166.4 315.4,165.7 316.5,165.1 317.5,164.4 318.6,163.9 319.7,163.3 320.8,162.9 321.8,162.4 322.9,162.0 324.0,161.6 325.0,161.2 326.1,160.8 327.2,160.5 328.3,160.2 329.3,159.8 330.4,159.6 331.5,159.3 332.6,159.1 333.6,158.9 334.7,158.7" fill="none" stroke="#c9a04e" stroke-width="2.5" stroke-linejoin="round" stroke-linecap="round"/><polyline points="207.0,256.2 208.1,256.2 209.1,256.2 210.2,256.2 211.3,256.2 212.4,256.2 213.4,256.2 214.5,256.2 215.6,256.2 216.7,256.2 217.7,256.2 218.8,256.2 219.9,256.2 221.0,256.2 222.0,256.2 223.1,256.2 224.2,256.2 225.2,256.2 226.3,256.2 227.4,256.2 228.5,256.2 229.5,256.2 230.6,256.2 231.7,256.2 232.8,256.2 233.8,256.2 234.9,256.2 236.0,256.2 237.0,256.2 238.1,256.2 239.2,256.2 240.3,256.2 241.3,256.2 242.4,256.2 243.5,256.2 244.6,256.2 245.6,256.2 246.7,256.2 247.8,256.2 248.9,256.2 249.9,256.2 251.0,256.2 252.1,256.2 253.1,256.2 254.2,256.2 255.3,256.2 256.4,256.2 257.4,256.2 258.5,256.2 259.6,256.1 260.7,256.1 261.7,256.0 262.8,256.0 263.9,255.9 264.9,255.7 266.0,255.4 267.1,255.1 268.2,254.6 269.2,254.1 270.3,253.5 271.4,252.6 272.5,251.4 273.5,250.0 274.6,248.2 275.7,246.0 276.8,243.5 277.8,240.1 278.9,236.2 280.0,232.4 281.0,228.5 282.1,224.4 283.2,220.5 284.3,216.7 285.3,213.0 286.4,209.2 287.5,205.4 288.6,201.9 289.6,199.0 290.7,196.6 291.8,194.2 292.9,191.8 293.9,189.4 295.0,187.1 296.1,185.0 297.1,183.0 298.2,181.3 299.3,179.9 300.4,178.5 301.4,177.3 302.5,176.1 303.6,175.0 304.7,173.9 305.7,172.9 306.8,172.0 307.9,171.1 308.9,170.3 310.0,169.4 311.1,168.6 312.2,167.9 313.2,167.1 314.3,166.4 315.4,165.7 316.5,165.1 317.5,164.4 318.6,163.9 319.7,163.3 320.8,162.9 321.8,162.4 322.9,162.0 324.0,161.6 325.0,161.2 326.1,160.8 327.2,160.5 328.3,160.2 329.3,159.8 330.4,159.6 331.5,159.3 332.6,159.1 333.6,158.9 334.7,158.7" fill="none" stroke="#fff" stroke-opacity="0.5" stroke-width="1.0" stroke-dasharray="1.1,0.5"/><line x1="200.4" y1="151.8" x2="215.9" y2="151.8" stroke="#6a6a6a" stroke-width="1.5"/><circle cx="207.8" cy="151.8" r="1.2" fill="#fff" stroke="#6a6a6a" stroke-width="0.7"/><line x1="200.4" y1="162" x2="215.9" y2="162" stroke="#4d93c4" stroke-width="1.5"/><circle cx="207.8" cy="162" r="1.2" fill="#fff" stroke="#4d93c4" stroke-width="0.7"/><line x1="200.4" y1="171.6" x2="215.9" y2="171.6" stroke="#c9a04e" stroke-width="1.5"/><circle cx="207.8" cy="171.6" r="1.2" fill="#fff" stroke="#c9a04e" stroke-width="0.7"/><text x="217.1" y="153.8" font-size="5.8" fill="#c0505a" text-anchor="start" font-family='"Liberation Sans", sans-serif' font-weight="normal" textLength="17.4" lengthAdjust="spacingAndGlyphs" >V<tspan font-size="3.6" dy="1.2">A</tspan><tspan dy="-1.2">=1V</tspan></text><text x="217.1" y="164.0" font-size="5.8" fill="#4d93c4" text-anchor="start" font-family='"Liberation Sans", sans-serif' font-weight="normal" textLength="17.4" lengthAdjust="spacingAndGlyphs" >V<tspan font-size="3.6" dy="1.2">A</tspan><tspan dy="-1.2">=2V</tspan></text><text x="217.1" y="173.6" font-size="5.8" fill="#d8b878" text-anchor="start" font-family='"Liberation Sans", sans-serif' font-weight="normal" textLength="17.4" lengthAdjust="spacingAndGlyphs" >V<tspan font-size="3.6" dy="1.2">A</tspan><tspan dy="-1.2">=3V</tspan></text><rect x="368.8" y="150.5" width="139.8" height="112.8" fill="none" stroke="#2e2e2e" stroke-width="1.3"/><line x1="378.5" y1="263.3" x2="378.5" y2="265.5" stroke="#2e2e2e" stroke-width="1"/><text x="378.5" y="271.7" font-size="5.6" fill="#333" text-anchor="middle" font-family='"Liberation Sans", sans-serif' font-weight="normal" >-3</text><line x1="388.4" y1="263.3" x2="388.4" y2="264.6" stroke="#2e2e2e" stroke-width="1"/><line x1="398.4" y1="263.3" x2="398.4" y2="265.5" stroke="#2e2e2e" stroke-width="1"/><text x="398.4" y="271.7" font-size="5.6" fill="#333" text-anchor="middle" font-family='"Liberation Sans", sans-serif' font-weight="normal" >-2</text><line x1="408.4" y1="263.3" x2="408.4" y2="264.6" stroke="#2e2e2e" stroke-width="1"/><line x1="418.4" y1="263.3" x2="418.4" y2="265.5" stroke="#2e2e2e" stroke-width="1"/><text x="418.4" y="271.7" font-size="5.6" fill="#333" text-anchor="middle" font-family='"Liberation Sans", sans-serif' font-weight="normal" >-1</text><line x1="428.3" y1="263.3" x2="428.3" y2="264.6" stroke="#2e2e2e" stroke-width="1"/><line x1="438.3" y1="263.3" x2="438.3" y2="265.5" stroke="#2e2e2e" stroke-width="1"/><text x="438.3" y="271.7" font-size="5.6" fill="#333" text-anchor="middle" font-family='"Liberation Sans", sans-serif' font-weight="normal" >0</text><line x1="448.3" y1="263.3" x2="448.3" y2="264.6" stroke="#2e2e2e" stroke-width="1"/><line x1="458.2" y1="263.3" x2="458.2" y2="265.5" stroke="#2e2e2e" stroke-width="1"/><text x="458.2" y="271.7" font-size="5.6" fill="#333" text-anchor="middle" font-family='"Liberation Sans", sans-serif' font-weight="normal" >1</text><line x1="468.2" y1="263.3" x2="468.2" y2="264.6" stroke="#2e2e2e" stroke-width="1"/><line x1="478.2" y1="263.3" x2="478.2" y2="265.5" stroke="#2e2e2e" stroke-width="1"/><text x="478.2" y="271.7" font-size="5.6" fill="#333" text-anchor="middle" font-family='"Liberation Sans", sans-serif' font-weight="normal" >2</text><line x1="488.2" y1="263.3" x2="488.2" y2="264.6" stroke="#2e2e2e" stroke-width="1"/><line x1="498.1" y1="263.3" x2="498.1" y2="265.5" stroke="#2e2e2e" stroke-width="1"/><text x="498.1" y="271.7" font-size="5.6" fill="#333" text-anchor="middle" font-family='"Liberation Sans", sans-serif' font-weight="normal" >3</text><line x1="366.6" y1="256.6" x2="368.8" y2="256.6" stroke="#2e2e2e" stroke-width="1"/><text x="364.8" y="258.6" font-size="5.6" fill="#333" text-anchor="end" font-family='"Liberation Sans", sans-serif' font-weight="normal" >0</text><line x1="367.5" y1="250.0" x2="368.8" y2="250.0" stroke="#2e2e2e" stroke-width="1"/><line x1="366.6" y1="243.4" x2="368.8" y2="243.4" stroke="#2e2e2e" stroke-width="1"/><text x="364.8" y="245.4" font-size="5.6" fill="#333" text-anchor="end" font-family='"Liberation Sans", sans-serif' font-weight="normal" >50</text><line x1="367.5" y1="236.7" x2="368.8" y2="236.7" stroke="#2e2e2e" stroke-width="1"/><line x1="366.6" y1="230.1" x2="368.8" y2="230.1" stroke="#2e2e2e" stroke-width="1"/><text x="364.8" y="232.1" font-size="5.6" fill="#333" text-anchor="end" font-family='"Liberation Sans", sans-serif' font-weight="normal" >100</text><line x1="367.5" y1="223.5" x2="368.8" y2="223.5" stroke="#2e2e2e" stroke-width="1"/><line x1="366.6" y1="216.9" x2="368.8" y2="216.9" stroke="#2e2e2e" stroke-width="1"/><text x="364.8" y="218.9" font-size="5.6" fill="#333" text-anchor="end" font-family='"Liberation Sans", sans-serif' font-weight="normal" >150</text><line x1="367.5" y1="210.2" x2="368.8" y2="210.2" stroke="#2e2e2e" stroke-width="1"/><line x1="366.6" y1="203.6" x2="368.8" y2="203.6" stroke="#2e2e2e" stroke-width="1"/><text x="364.8" y="205.6" font-size="5.6" fill="#333" text-anchor="end" font-family='"Liberation Sans", sans-serif' font-weight="normal" >200</text><line x1="367.5" y1="197.0" x2="368.8" y2="197.0" stroke="#2e2e2e" stroke-width="1"/><line x1="366.6" y1="190.4" x2="368.8" y2="190.4" stroke="#2e2e2e" stroke-width="1"/><text x="364.8" y="192.4" font-size="5.6" fill="#333" text-anchor="end" font-family='"Liberation Sans", sans-serif' font-weight="normal" >250</text><line x1="367.5" y1="183.7" x2="368.8" y2="183.7" stroke="#2e2e2e" stroke-width="1"/><line x1="366.6" y1="177.1" x2="368.8" y2="177.1" stroke="#2e2e2e" stroke-width="1"/><text x="364.8" y="179.1" font-size="5.6" fill="#333" text-anchor="end" font-family='"Liberation Sans", sans-serif' font-weight="normal" >300</text><line x1="367.5" y1="170.5" x2="368.8" y2="170.5" stroke="#2e2e2e" stroke-width="1"/><line x1="366.6" y1="163.9" x2="368.8" y2="163.9" stroke="#2e2e2e" stroke-width="1"/><text x="364.8" y="165.9" font-size="5.6" fill="#333" text-anchor="end" font-family='"Liberation Sans", sans-serif' font-weight="normal" >350</text><line x1="367.5" y1="157.2" x2="368.8" y2="157.2" stroke="#2e2e2e" stroke-width="1"/><line x1="366.6" y1="150.6" x2="368.8" y2="150.6" stroke="#2e2e2e" stroke-width="1"/><text x="364.8" y="152.6" font-size="5.6" fill="#333" text-anchor="end" font-family='"Liberation Sans", sans-serif' font-weight="normal" >400</text><text x="436.9" y="282.9" font-size="6.6" fill="#222" text-anchor="middle" font-family='"Liberation Sans", sans-serif' font-weight="normal" textLength="52" lengthAdjust="spacingAndGlyphs" >Anode Voltage (V)</text><text transform="translate(353.3,206) rotate(-90)" font-size="6.6" fill="#222" text-anchor="middle" font-family='"Liberation Sans", sans-serif' textLength="62.7" lengthAdjust="spacingAndGlyphs">Anode Current  (μA)</text><polyline points="378.5,256.6 379.0,256.6 379.5,256.6 380.0,256.6 380.5,256.6 381.0,256.6 381.5,256.6 382.0,256.6 382.5,256.6 383.0,256.6 383.5,256.6 384.0,256.6 384.5,256.6 385.0,256.6 385.5,256.6 386.0,256.6 386.5,256.6 387.0,256.6 387.5,256.6 388.0,256.6 388.5,256.6 389.0,256.6 389.5,256.6 390.0,256.6 390.5,256.6 391.0,256.6 391.5,256.6 392.0,256.6 392.5,256.6 393.0,256.6 393.5,256.6 394.0,256.6 394.5,256.6 395.0,256.6 395.5,256.6 396.0,256.6 396.5,256.6 397.0,256.6 397.5,256.6 398.0,256.6 398.5,256.6 399.0,256.6 399.5,256.6 400.0,256.6 400.5,256.6 401.0,256.6 401.5,256.6 402.0,256.6 402.5,256.6 403.0,256.6 403.5,256.6 404.0,256.6 404.5,256.6 405.0,256.6 405.5,256.6 406.0,256.6 406.5,256.6 407.0,256.6 407.5,256.6 408.0,256.6 408.5,256.6 409.0,256.6 409.5,256.6 410.0,256.6 410.5,256.6 411.0,256.6 411.5,256.6 412.0,256.6 412.5,256.6 413.0,256.6 413.5,256.6 414.0,256.6 414.5,256.6 415.0,256.6 415.5,256.6 416.0,256.6 416.5,256.6 417.0,256.6 417.5,256.6 418.0,256.6 418.5,256.6 419.0,256.6 419.5,256.6 420.0,256.6 420.5,256.6 421.0,256.6 421.5,256.6 422.0,256.6 422.5,256.6 423.0,256.6 423.5,256.6 424.0,256.6 424.5,256.6 425.0,256.6 425.5,256.6 426.0,256.6 426.5,256.6 427.0,256.6 427.5,256.6 428.0,256.6 428.5,256.6 429.0,256.6 429.5,256.6 430.0,256.6 430.5,256.6 431.0,256.6 431.5,256.6 432.0,256.6 432.5,256.6 433.0,256.6 433.5,256.6 434.0,256.6 434.5,256.6 435.0,256.6 435.5,256.6 436.0,256.6 436.5,256.6 437.0,256.6 437.5,256.6 438.0,256.6 438.6,256.6 439.1,256.6 439.6,256.6 440.1,256.6 440.6,256.6 441.1,256.6 441.6,256.6 442.1,256.6 442.6,256.6 443.1,256.6 443.6,256.6 444.1,256.6 444.6,256.6 445.1,256.6 445.6,256.6 446.1,256.6 446.6,256.6 447.1,256.6 447.6,256.6 448.1,256.6 448.6,256.6 449.1,256.6 449.6,256.6 450.1,256.6 450.6,256.6 451.1,256.6 451.6,256.6 452.1,256.6 452.6,256.6 453.1,256.6 453.6,256.6 454.1,256.6 454.6,256.5 455.1,256.5 455.6,256.5 456.1,256.5 456.6,256.5 457.1,256.4 457.6,256.4 458.1,256.4 458.6,256.4 459.1,256.3 459.6,256.3 460.1,256.3 460.6,256.3 461.1,256.3 461.6,256.2 462.1,256.2 462.6,256.2 463.1,256.2 463.6,256.1 464.1,256.1 464.6,256.1 465.1,256.1 465.6,256.0 466.1,256.0 466.6,256.0 467.1,256.0 467.6,255.9 468.1,255.9 468.6,255.9 469.1,255.9 469.6,255.8 470.1,255.8 470.6,255.8 471.1,255.8 471.6,255.8 472.1,255.7 472.6,255.7 473.1,255.7 473.6,255.7 474.1,255.6 474.6,255.6 475.1,255.6 475.6,255.6 476.1,255.5 476.6,255.5 477.1,255.5 477.6,255.5 478.1,255.4 478.6,255.4 479.1,255.4 479.6,255.4 480.1,255.3 480.6,255.3 481.1,255.3 481.6,255.3 482.1,255.2 482.6,255.2 483.1,255.2 483.6,255.2 484.1,255.2 484.6,255.1 485.1,255.1 485.6,255.1 486.1,255.1 486.6,255.0 487.1,255.0 487.6,255.0 488.1,255.0 488.6,254.9 489.1,254.9 489.6,254.9 490.1,254.9 490.6,254.8 491.1,254.8 491.6,254.8 492.1,254.8 492.6,254.7 493.1,254.7 493.6,254.7 494.1,254.7 494.6,254.6 495.1,254.6 495.6,254.6 496.1,254.6 496.6,254.6 497.1,254.5 497.6,254.5 498.1,254.5" fill="none" stroke="#6a6a6a" stroke-width="2.5" stroke-linejoin="round" stroke-linecap="round"/><polyline points="378.5,256.6 379.0,256.6 379.5,256.6 380.0,256.6 380.5,256.6 381.0,256.6 381.5,256.6 382.0,256.6 382.5,256.6 383.0,256.6 383.5,256.6 384.0,256.6 384.5,256.6 385.0,256.6 385.5,256.6 386.0,256.6 386.5,256.6 387.0,256.6 387.5,256.6 388.0,256.6 388.5,256.6 389.0,256.6 389.5,256.6 390.0,256.6 390.5,256.6 391.0,256.6 391.5,256.6 392.0,256.6 392.5,256.6 393.0,256.6 393.5,256.6 394.0,256.6 394.5,256.6 395.0,256.6 395.5,256.6 396.0,256.6 396.5,256.6 397.0,256.6 397.5,256.6 398.0,256.6 398.5,256.6 399.0,256.6 399.5,256.6 400.0,256.6 400.5,256.6 401.0,256.6 401.5,256.6 402.0,256.6 402.5,256.6 403.0,256.6 403.5,256.6 404.0,256.6 404.5,256.6 405.0,256.6 405.5,256.6 406.0,256.6 406.5,256.6 407.0,256.6 407.5,256.6 408.0,256.6 408.5,256.6 409.0,256.6 409.5,256.6 410.0,256.6 410.5,256.6 411.0,256.6 411.5,256.6 412.0,256.6 412.5,256.6 413.0,256.6 413.5,256.6 414.0,256.6 414.5,256.6 415.0,256.6 415.5,256.6 416.0,256.6 416.5,256.6 417.0,256.6 417.5,256.6 418.0,256.6 418.5,256.6 419.0,256.6 419.5,256.6 420.0,256.6 420.5,256.6 421.0,256.6 421.5,256.6 422.0,256.6 422.5,256.6 423.0,256.6 423.5,256.6 424.0,256.6 424.5,256.6 425.0,256.6 425.5,256.6 426.0,256.6 426.5,256.6 427.0,256.6 427.5,256.6 428.0,256.6 428.5,256.6 429.0,256.6 429.5,256.6 430.0,256.6 430.5,256.6 431.0,256.6 431.5,256.6 432.0,256.6 432.5,256.6 433.0,256.6 433.5,256.6 434.0,256.6 434.5,256.6 435.0,256.6 435.5,256.6 436.0,256.6 436.5,256.6 437.0,256.6 437.5,256.6 438.0,256.6 438.6,256.6 439.1,256.6 439.6,256.6 440.1,256.6 440.6,256.6 441.1,256.6 441.6,256.6 442.1,256.6 442.6,256.6 443.1,256.6 443.6,256.6 444.1,256.6 444.6,256.6 445.1,256.6 445.6,256.6 446.1,256.6 446.6,256.6 447.1,256.6 447.6,256.6 448.1,256.6 448.6,256.6 449.1,256.6 449.6,256.6 450.1,256.6 450.6,256.6 451.1,256.6 451.6,256.6 452.1,256.6 452.6,256.6 453.1,256.6 453.6,256.6 454.1,256.6 454.6,256.5 455.1,256.5 455.6,256.5 456.1,256.5 456.6,256.5 457.1,256.4 457.6,256.4 458.1,256.4 458.6,256.4 459.1,256.3 459.6,256.3 460.1,256.3 460.6,256.3 461.1,256.3 461.6,256.2 462.1,256.2 462.6,256.2 463.1,256.2 463.6,256.1 464.1,256.1 464.6,256.1 465.1,256.1 465.6,256.0 466.1,256.0 466.6,256.0 467.1,256.0 467.6,255.9 468.1,255.9 468.6,255.9 469.1,255.9 469.6,255.8 470.1,255.8 470.6,255.8 471.1,255.8 471.6,255.8 472.1,255.7 472.6,255.7 473.1,255.7 473.6,255.7 474.1,255.6 474.6,255.6 475.1,255.6 475.6,255.6 476.1,255.5 476.6,255.5 477.1,255.5 477.6,255.5 478.1,255.4 478.6,255.4 479.1,255.4 479.6,255.4 480.1,255.3 480.6,255.3 481.1,255.3 481.6,255.3 482.1,255.2 482.6,255.2 483.1,255.2 483.6,255.2 484.1,255.2 484.6,255.1 485.1,255.1 485.6,255.1 486.1,255.1 486.6,255.0 487.1,255.0 487.6,255.0 488.1,255.0 488.6,254.9 489.1,254.9 489.6,254.9 490.1,254.9 490.6,254.8 491.1,254.8 491.6,254.8 492.1,254.8 492.6,254.7 493.1,254.7 493.6,254.7 494.1,254.7 494.6,254.6 495.1,254.6 495.6,254.6 496.1,254.6 496.6,254.6 497.1,254.5 497.6,254.5 498.1,254.5" fill="none" stroke="#fff" stroke-opacity="0.5" stroke-width="1.0" stroke-dasharray="1.1,0.5"/><polyline points="378.5,256.6 379.0,256.6 379.5,256.6 380.0,256.6 380.5,256.6 381.0,256.6 381.5,256.6 382.0,256.6 382.5,256.6 383.0,256.6 383.5,256.6 384.0,256.6 384.5,256.6 385.0,256.6 385.5,256.6 386.0,256.6 386.5,256.6 387.0,256.6 387.5,256.6 388.0,256.6 388.5,256.6 389.0,256.6 389.5,256.6 390.0,256.6 390.5,256.6 391.0,256.6 391.5,256.6 392.0,256.6 392.5,256.6 393.0,256.6 393.5,256.6 394.0,256.6 394.5,256.6 395.0,256.6 395.5,256.6 396.0,256.6 396.5,256.6 397.0,256.6 397.5,256.6 398.0,256.6 398.5,256.6 399.0,256.6 399.5,256.6 400.0,256.6 400.5,256.6 401.0,256.6 401.5,256.6 402.0,256.6 402.5,256.6 403.0,256.6 403.5,256.6 404.0,256.6 404.5,256.6 405.0,256.6 405.5,256.6 406.0,256.6 406.5,256.6 407.0,256.6 407.5,256.6 408.0,256.6 408.5,256.6 409.0,256.6 409.5,256.6 410.0,256.6 410.5,256.6 411.0,256.6 411.5,256.6 412.0,256.6 412.5,256.6 413.0,256.6 413.5,256.6 414.0,256.6 414.5,256.6 415.0,256.6 415.5,256.6 416.0,256.6 416.5,256.6 417.0,256.6 417.5,256.6 418.0,256.6 418.5,256.6 419.0,256.6 419.5,256.6 420.0,256.6 420.5,256.6 421.0,256.6 421.5,256.6 422.0,256.6 422.5,256.6 423.0,256.6 423.5,256.6 424.0,256.6 424.5,256.6 425.0,256.6 425.5,256.6 426.0,256.6 426.5,256.6 427.0,256.6 427.5,256.6 428.0,256.6 428.5,256.6 429.0,256.6 429.5,256.6 430.0,256.6 430.5,256.6 431.0,256.6 431.5,256.6 432.0,256.6 432.5,256.6 433.0,256.6 433.5,256.6 434.0,256.6 434.5,256.6 435.0,256.6 435.5,256.6 436.0,256.6 436.5,256.6 437.0,256.6 437.5,256.6 438.0,256.6 438.6,256.6 439.1,256.6 439.6,256.6 440.1,256.6 440.6,256.6 441.1,256.6 441.6,256.6 442.1,256.6 442.6,256.6 443.1,256.6 443.6,256.6 444.1,256.6 444.6,256.6 445.1,256.6 445.6,256.6 446.1,256.6 446.6,256.6 447.1,256.6 447.6,256.6 448.1,256.6 448.6,256.6 449.1,256.6 449.6,256.6 450.1,256.6 450.6,256.5 451.1,256.5 451.6,256.5 452.1,256.4 452.6,256.4 453.1,256.3 453.6,256.1 454.1,256.0 454.6,255.7 455.1,255.5 455.6,255.2 456.1,255.0 456.6,254.6 457.1,254.3 457.6,254.0 458.1,253.7 458.6,253.3 459.1,253.0 459.6,252.7 460.1,252.3 460.6,252.0 461.1,251.6 461.6,251.3 462.1,250.9 462.6,250.6 463.1,250.2 463.6,249.9 464.1,249.6 464.6,249.2 465.1,248.9 465.6,248.5 466.1,248.2 466.6,247.8 467.1,247.5 467.6,247.1 468.1,246.8 468.6,246.5 469.1,246.1 469.6,245.8 470.1,245.4 470.6,245.1 471.1,244.7 471.6,244.4 472.1,244.0 472.6,243.7 473.1,243.4 473.6,243.0 474.1,242.7 474.6,242.3 475.1,242.0 475.6,241.6 476.1,241.3 476.6,240.9 477.1,240.6 477.6,240.3 478.1,239.9 478.6,239.6 479.1,239.2 479.6,238.9 480.1,238.5 480.6,238.2 481.1,237.8 481.6,237.5 482.1,237.2 482.6,236.8 483.1,236.5 483.6,236.1 484.1,235.8 484.6,235.4 485.1,235.1 485.6,234.7 486.1,234.4 486.6,234.1 487.1,233.7 487.6,233.4 488.1,233.0 488.6,232.7 489.1,232.3 489.6,232.0 490.1,231.6 490.6,231.3 491.1,230.9 491.6,230.6 492.1,230.3 492.6,229.9 493.1,229.6 493.6,229.2 494.1,228.9 494.6,228.5 495.1,228.2 495.6,227.8 496.1,227.5 496.6,227.2 497.1,226.8 497.6,226.5 498.1,226.1" fill="none" stroke="#4d93c4" stroke-width="2.5" stroke-linejoin="round" stroke-linecap="round"/><polyline points="378.5,256.6 379.0,256.6 379.5,256.6 380.0,256.6 380.5,256.6 381.0,256.6 381.5,256.6 382.0,256.6 382.5,256.6 383.0,256.6 383.5,256.6 384.0,256.6 384.5,256.6 385.0,256.6 385.5,256.6 386.0,256.6 386.5,256.6 387.0,256.6 387.5,256.6 388.0,256.6 388.5,256.6 389.0,256.6 389.5,256.6 390.0,256.6 390.5,256.6 391.0,256.6 391.5,256.6 392.0,256.6 392.5,256.6 393.0,256.6 393.5,256.6 394.0,256.6 394.5,256.6 395.0,256.6 395.5,256.6 396.0,256.6 396.5,256.6 397.0,256.6 397.5,256.6 398.0,256.6 398.5,256.6 399.0,256.6 399.5,256.6 400.0,256.6 400.5,256.6 401.0,256.6 401.5,256.6 402.0,256.6 402.5,256.6 403.0,256.6 403.5,256.6 404.0,256.6 404.5,256.6 405.0,256.6 405.5,256.6 406.0,256.6 406.5,256.6 407.0,256.6 407.5,256.6 408.0,256.6 408.5,256.6 409.0,256.6 409.5,256.6 410.0,256.6 410.5,256.6 411.0,256.6 411.5,256.6 412.0,256.6 412.5,256.6 413.0,256.6 413.5,256.6 414.0,256.6 414.5,256.6 415.0,256.6 415.5,256.6 416.0,256.6 416.5,256.6 417.0,256.6 417.5,256.6 418.0,256.6 418.5,256.6 419.0,256.6 419.5,256.6 420.0,256.6 420.5,256.6 421.0,256.6 421.5,256.6 422.0,256.6 422.5,256.6 423.0,256.6 423.5,256.6 424.0,256.6 424.5,256.6 425.0,256.6 425.5,256.6 426.0,256.6 426.5,256.6 427.0,256.6 427.5,256.6 428.0,256.6 428.5,256.6 429.0,256.6 429.5,256.6 430.0,256.6 430.5,256.6 431.0,256.6 431.5,256.6 432.0,256.6 432.5,256.6 433.0,256.6 433.5,256.6 434.0,256.6 434.5,256.6 435.0,256.6 435.5,256.6 436.0,256.6 436.5,256.6 437.0,256.6 437.5,256.6 438.0,256.6 438.6,256.6 439.1,256.6 439.6,256.6 440.1,256.6 440.6,256.6 441.1,256.6 441.6,256.6 442.1,256.6 442.6,256.6 443.1,256.6 443.6,256.6 444.1,256.6 444.6,256.6 445.1,256.6 445.6,256.6 446.1,256.6 446.6,256.6 447.1,256.6 447.6,256.6 448.1,256.6 448.6,256.6 449.1,256.6 449.6,256.6 450.1,256.6 450.6,256.5 451.1,256.5 451.6,256.5 452.1,256.4 452.6,256.4 453.1,256.3 453.6,256.1 454.1,256.0 454.6,255.7 455.1,255.5 455.6,255.2 456.1,255.0 456.6,254.6 457.1,254.3 457.6,254.0 458.1,253.7 458.6,253.3 459.1,253.0 459.6,252.7 460.1,252.3 460.6,252.0 461.1,251.6 461.6,251.3 462.1,250.9 462.6,250.6 463.1,250.2 463.6,249.9 464.1,249.6 464.6,249.2 465.1,248.9 465.6,248.5 466.1,248.2 466.6,247.8 467.1,247.5 467.6,247.1 468.1,246.8 468.6,246.5 469.1,246.1 469.6,245.8 470.1,245.4 470.6,245.1 471.1,244.7 471.6,244.4 472.1,244.0 472.6,243.7 473.1,243.4 473.6,243.0 474.1,242.7 474.6,242.3 475.1,242.0 475.6,241.6 476.1,241.3 476.6,240.9 477.1,240.6 477.6,240.3 478.1,239.9 478.6,239.6 479.1,239.2 479.6,238.9 480.1,238.5 480.6,238.2 481.1,237.8 481.6,237.5 482.1,237.2 482.6,236.8 483.1,236.5 483.6,236.1 484.1,235.8 484.6,235.4 485.1,235.1 485.6,234.7 486.1,234.4 486.6,234.1 487.1,233.7 487.6,233.4 488.1,233.0 488.6,232.7 489.1,232.3 489.6,232.0 490.1,231.6 490.6,231.3 491.1,230.9 491.6,230.6 492.1,230.3 492.6,229.9 493.1,229.6 493.6,229.2 494.1,228.9 494.6,228.5 495.1,228.2 495.6,227.8 496.1,227.5 496.6,227.2 497.1,226.8 497.6,226.5 498.1,226.1" fill="none" stroke="#fff" stroke-opacity="0.5" stroke-width="1.0" stroke-dasharray="1.1,0.5"/><polyline points="378.5,256.6 379.0,256.6 379.5,256.6 380.0,256.6 380.5,256.6 381.0,256.6 381.5,256.6 382.0,256.6 382.5,256.6 383.0,256.6 383.5,256.6 384.0,256.6 384.5,256.6 385.0,256.6 385.5,256.6 386.0,256.6 386.5,256.6 387.0,256.6 387.5,256.6 388.0,256.6 388.5,256.6 389.0,256.6 389.5,256.6 390.0,256.6 390.5,256.6 391.0,256.6 391.5,256.6 392.0,256.6 392.5,256.6 393.0,256.6 393.5,256.6 394.0,256.6 394.5,256.6 395.0,256.6 395.5,256.6 396.0,256.6 396.5,256.6 397.0,256.6 397.5,256.6 398.0,256.6 398.5,256.6 399.0,256.6 399.5,256.6 400.0,256.6 400.5,256.6 401.0,256.6 401.5,256.6 402.0,256.6 402.5,256.6 403.0,256.6 403.5,256.6 404.0,256.6 404.5,256.6 405.0,256.6 405.5,256.6 406.0,256.6 406.5,256.6 407.0,256.6 407.5,256.6 408.0,256.6 408.5,256.6 409.0,256.6 409.5,256.6 410.0,256.6 410.5,256.6 411.0,256.6 411.5,256.6 412.0,256.6 412.5,256.6 413.0,256.6 413.5,256.6 414.0,256.6 414.5,256.6 415.0,256.6 415.5,256.6 416.0,256.6 416.5,256.6 417.0,256.6 417.5,256.6 418.0,256.6 418.5,256.6 419.0,256.6 419.5,256.6 420.0,256.6 420.5,256.6 421.0,256.6 421.5,256.6 422.0,256.6 422.5,256.6 423.0,256.6 423.5,256.6 424.0,256.6 424.5,256.6 425.0,256.6 425.5,256.6 426.0,256.6 426.5,256.6 427.0,256.6 427.5,256.6 428.0,256.6 428.5,256.6 429.0,256.6 429.5,256.6 430.0,256.6 430.5,256.6 431.0,256.6 431.5,256.6 432.0,256.6 432.5,256.6 433.0,256.6 433.5,256.6 434.0,256.6 434.5,256.6 435.0,256.6 435.5,256.6 436.0,256.6 436.5,256.6 437.0,256.6 437.5,256.6 438.0,256.6 438.6,256.6 439.1,256.6 439.6,256.6 440.1,256.6 440.6,256.6 441.1,256.6 441.6,256.6 442.1,256.6 442.6,256.6 443.1,256.6 443.6,256.6 444.1,256.6 444.6,256.6 445.1,256.6 445.6,256.6 446.1,256.6 446.6,256.6 447.1,256.6 447.6,256.6 448.1,256.6 448.6,256.6 449.1,256.6 449.6,256.6 450.1,256.5 450.6,256.5 451.1,256.5 451.6,256.4 452.1,256.3 452.6,256.1 453.1,255.9 453.6,255.7 454.1,255.3 454.6,254.9 455.1,254.4 455.6,253.8 456.1,253.2 456.6,252.5 457.1,251.8 457.6,251.1 458.1,250.3 458.6,249.6 459.1,248.8 459.6,248.0 460.1,247.3 460.6,246.5 461.1,245.7 461.6,244.9 462.1,244.1 462.6,243.3 463.1,242.5 463.6,241.7 464.1,240.9 464.6,240.1 465.1,239.3 465.6,238.5 466.1,237.7 466.6,236.8 467.1,236.0 467.6,235.2 468.1,234.4 468.6,233.6 469.1,232.7 469.6,231.9 470.1,231.1 470.6,230.3 471.1,229.4 471.6,228.6 472.1,227.8 472.6,226.9 473.1,226.1 473.6,225.3 474.1,224.4 474.6,223.6 475.1,222.8 475.6,221.9 476.1,221.1 476.6,220.3 477.1,219.4 477.6,218.6 478.1,217.7 478.6,216.9 479.1,216.0 479.6,215.2 480.1,214.4 480.6,213.5 481.1,212.7 481.6,211.8 482.1,211.0 482.6,210.1 483.1,209.3 483.6,208.4 484.1,207.6 484.6,206.7 485.1,205.9 485.6,205.0 486.1,204.1 486.6,203.3 487.1,202.4 487.6,201.6 488.1,200.7 488.6,199.9 489.1,199.0 489.6,198.1 490.1,197.3 490.6,196.4 491.1,195.6 491.6,194.7 492.1,193.8 492.6,193.0 493.1,192.1 493.6,191.3 494.1,190.4 494.6,189.5 495.1,188.7 495.6,187.8 496.1,186.9 496.6,186.1 497.1,185.2 497.6,184.3 498.1,183.5" fill="none" stroke="#c9a04e" stroke-width="2.5" stroke-linejoin="round" stroke-linecap="round"/><polyline points="378.5,256.6 379.0,256.6 379.5,256.6 380.0,256.6 380.5,256.6 381.0,256.6 381.5,256.6 382.0,256.6 382.5,256.6 383.0,256.6 383.5,256.6 384.0,256.6 384.5,256.6 385.0,256.6 385.5,256.6 386.0,256.6 386.5,256.6 387.0,256.6 387.5,256.6 388.0,256.6 388.5,256.6 389.0,256.6 389.5,256.6 390.0,256.6 390.5,256.6 391.0,256.6 391.5,256.6 392.0,256.6 392.5,256.6 393.0,256.6 393.5,256.6 394.0,256.6 394.5,256.6 395.0,256.6 395.5,256.6 396.0,256.6 396.5,256.6 397.0,256.6 397.5,256.6 398.0,256.6 398.5,256.6 399.0,256.6 399.5,256.6 400.0,256.6 400.5,256.6 401.0,256.6 401.5,256.6 402.0,256.6 402.5,256.6 403.0,256.6 403.5,256.6 404.0,256.6 404.5,256.6 405.0,256.6 405.5,256.6 406.0,256.6 406.5,256.6 407.0,256.6 407.5,256.6 408.0,256.6 408.5,256.6 409.0,256.6 409.5,256.6 410.0,256.6 410.5,256.6 411.0,256.6 411.5,256.6 412.0,256.6 412.5,256.6 413.0,256.6 413.5,256.6 414.0,256.6 414.5,256.6 415.0,256.6 415.5,256.6 416.0,256.6 416.5,256.6 417.0,256.6 417.5,256.6 418.0,256.6 418.5,256.6 419.0,256.6 419.5,256.6 420.0,256.6 420.5,256.6 421.0,256.6 421.5,256.6 422.0,256.6 422.5,256.6 423.0,256.6 423.5,256.6 424.0,256.6 424.5,256.6 425.0,256.6 425.5,256.6 426.0,256.6 426.5,256.6 427.0,256.6 427.5,256.6 428.0,256.6 428.5,256.6 429.0,256.6 429.5,256.6 430.0,256.6 430.5,256.6 431.0,256.6 431.5,256.6 432.0,256.6 432.5,256.6 433.0,256.6 433.5,256.6 434.0,256.6 434.5,256.6 435.0,256.6 435.5,256.6 436.0,256.6 436.5,256.6 437.0,256.6 437.5,256.6 438.0,256.6 438.6,256.6 439.1,256.6 439.6,256.6 440.1,256.6 440.6,256.6 441.1,256.6 441.6,256.6 442.1,256.6 442.6,256.6 443.1,256.6 443.6,256.6 444.1,256.6 444.6,256.6 445.1,256.6 445.6,256.6 446.1,256.6 446.6,256.6 447.1,256.6 447.6,256.6 448.1,256.6 448.6,256.6 449.1,256.6 449.6,256.6 450.1,256.5 450.6,256.5 451.1,256.5 451.6,256.4 452.1,256.3 452.6,256.1 453.1,255.9 453.6,255.7 454.1,255.3 454.6,254.9 455.1,254.4 455.6,253.8 456.1,253.2 456.6,252.5 457.1,251.8 457.6,251.1 458.1,250.3 458.6,249.6 459.1,248.8 459.6,248.0 460.1,247.3 460.6,246.5 461.1,245.7 461.6,244.9 462.1,244.1 462.6,243.3 463.1,242.5 463.6,241.7 464.1,240.9 464.6,240.1 465.1,239.3 465.6,238.5 466.1,237.7 466.6,236.8 467.1,236.0 467.6,235.2 468.1,234.4 468.6,233.6 469.1,232.7 469.6,231.9 470.1,231.1 470.6,230.3 471.1,229.4 471.6,228.6 472.1,227.8 472.6,226.9 473.1,226.1 473.6,225.3 474.1,224.4 474.6,223.6 475.1,222.8 475.6,221.9 476.1,221.1 476.6,220.3 477.1,219.4 477.6,218.6 478.1,217.7 478.6,216.9 479.1,216.0 479.6,215.2 480.1,214.4 480.6,213.5 481.1,212.7 481.6,211.8 482.1,211.0 482.6,210.1 483.1,209.3 483.6,208.4 484.1,207.6 484.6,206.7 485.1,205.9 485.6,205.0 486.1,204.1 486.6,203.3 487.1,202.4 487.6,201.6 488.1,200.7 488.6,199.9 489.1,199.0 489.6,198.1 490.1,197.3 490.6,196.4 491.1,195.6 491.6,194.7 492.1,193.8 492.6,193.0 493.1,192.1 493.6,191.3 494.1,190.4 494.6,189.5 495.1,188.7 495.6,187.8 496.1,186.9 496.6,186.1 497.1,185.2 497.6,184.3 498.1,183.5" fill="none" stroke="#fff" stroke-opacity="0.5" stroke-width="1.0" stroke-dasharray="1.1,0.5"/><polyline points="378.5,256.6 379.0,256.6 379.5,256.6 380.0,256.6 380.5,256.6 381.0,256.6 381.5,256.6 382.0,256.6 382.5,256.6 383.0,256.6 383.5,256.6 384.0,256.6 384.5,256.6 385.0,256.6 385.5,256.6 386.0,256.6 386.5,256.6 387.0,256.6 387.5,256.6 388.0,256.6 388.5,256.6 389.0,256.6 389.5,256.6 390.0,256.6 390.5,256.6 391.0,256.6 391.5,256.6 392.0,256.6 392.5,256.6 393.0,256.6 393.5,256.6 394.0,256.6 394.5,256.6 395.0,256.6 395.5,256.6 396.0,256.6 396.5,256.6 397.0,256.6 397.5,256.6 398.0,256.6 398.5,256.6 399.0,256.6 399.5,256.6 400.0,256.6 400.5,256.6 401.0,256.6 401.5,256.6 402.0,256.6 402.5,256.6 403.0,256.6 403.5,256.6 404.0,256.6 404.5,256.6 405.0,256.6 405.5,256.6 406.0,256.6 406.5,256.6 407.0,256.6 407.5,256.6 408.0,256.6 408.5,256.6 409.0,256.6 409.5,256.6 410.0,256.6 410.5,256.6 411.0,256.6 411.5,256.6 412.0,256.6 412.5,256.6 413.0,256.6 413.5,256.6 414.0,256.6 414.5,256.6 415.0,256.6 415.5,256.6 416.0,256.6 416.5,256.6 417.0,256.6 417.5,256.6 418.0,256.6 418.5,256.6 419.0,256.6 419.5,256.6 420.0,256.6 420.5,256.6 421.0,256.6 421.5,256.6 422.0,256.6 422.5,256.6 423.0,256.6 423.5,256.6 424.0,256.6 424.5,256.6 425.0,256.6 425.5,256.6 426.0,256.6 426.5,256.6 427.0,256.6 427.5,256.6 428.0,256.6 428.5,256.6 429.0,256.6 429.5,256.6 430.0,256.6 430.5,256.6 431.0,256.6 431.5,256.6 432.0,256.6 432.5,256.6 433.0,256.6 433.5,256.6 434.0,256.6 434.5,256.6 435.0,256.6 435.5,256.6 436.0,256.6 436.5,256.6 437.0,256.6 437.5,256.6 438.0,256.6 438.6,256.6 439.1,256.6 439.6,256.6 440.1,256.6 440.6,256.6 441.1,256.6 441.6,256.6 442.1,256.6 442.6,256.6 443.1,256.6 443.6,256.6 444.1,256.6 444.6,256.6 445.1,256.6 445.6,256.6 446.1,256.6 446.6,256.6 447.1,256.6 447.6,256.6 448.1,256.6 448.6,256.6 449.1,256.6 449.6,256.6 450.1,256.5 450.6,256.5 451.1,256.5 451.6,256.4 452.1,256.3 452.6,256.1 453.1,255.9 453.6,255.6 454.1,255.2 454.6,254.7 455.1,254.1 455.6,253.5 456.1,252.7 456.6,252.0 457.1,251.1 457.6,250.3 458.1,249.4 458.6,248.5 459.1,247.6 459.6,246.7 460.1,245.8 460.6,244.8 461.1,243.9 461.6,242.9 462.1,242.0 462.6,241.0 463.1,240.0 463.6,239.1 464.1,238.1 464.6,237.1 465.1,236.1 465.6,235.1 466.1,234.1 466.6,233.1 467.1,232.2 467.6,231.2 468.1,230.1 468.6,229.1 469.1,228.1 469.6,227.1 470.1,226.1 470.6,225.1 471.1,224.1 471.6,223.0 472.1,222.0 472.6,221.0 473.1,220.0 473.6,218.9 474.1,217.9 474.6,216.9 475.1,215.8 475.6,214.8 476.1,213.8 476.6,212.7 477.1,211.7 477.6,210.6 478.1,209.6 478.6,208.5 479.1,207.5 479.6,206.4 480.1,205.4 480.6,204.3 481.1,203.3 481.6,202.2 482.1,201.1 482.6,200.1 483.1,199.0 483.6,197.9 484.1,196.9 484.6,195.8 485.1,194.7 485.6,193.7 486.1,192.6 486.6,191.5 487.1,190.4 487.6,189.4 488.1,188.3 488.6,187.2 489.1,186.1 489.6,185.1 490.1,184.0 490.6,182.9 491.1,181.8 491.6,180.7 492.1,179.6 492.6,178.5 493.1,177.5 493.6,176.4 494.1,175.3 494.6,174.2 495.1,173.1 495.6,172.0 496.1,170.9 496.6,169.8 497.1,168.7 497.6,167.6 498.1,166.5" fill="none" stroke="#6aae2e" stroke-width="2.5" stroke-linejoin="round" stroke-linecap="round"/><polyline points="378.5,256.6 379.0,256.6 379.5,256.6 380.0,256.6 380.5,256.6 381.0,256.6 381.5,256.6 382.0,256.6 382.5,256.6 383.0,256.6 383.5,256.6 384.0,256.6 384.5,256.6 385.0,256.6 385.5,256.6 386.0,256.6 386.5,256.6 387.0,256.6 387.5,256.6 388.0,256.6 388.5,256.6 389.0,256.6 389.5,256.6 390.0,256.6 390.5,256.6 391.0,256.6 391.5,256.6 392.0,256.6 392.5,256.6 393.0,256.6 393.5,256.6 394.0,256.6 394.5,256.6 395.0,256.6 395.5,256.6 396.0,256.6 396.5,256.6 397.0,256.6 397.5,256.6 398.0,256.6 398.5,256.6 399.0,256.6 399.5,256.6 400.0,256.6 400.5,256.6 401.0,256.6 401.5,256.6 402.0,256.6 402.5,256.6 403.0,256.6 403.5,256.6 404.0,256.6 404.5,256.6 405.0,256.6 405.5,256.6 406.0,256.6 406.5,256.6 407.0,256.6 407.5,256.6 408.0,256.6 408.5,256.6 409.0,256.6 409.5,256.6 410.0,256.6 410.5,256.6 411.0,256.6 411.5,256.6 412.0,256.6 412.5,256.6 413.0,256.6 413.5,256.6 414.0,256.6 414.5,256.6 415.0,256.6 415.5,256.6 416.0,256.6 416.5,256.6 417.0,256.6 417.5,256.6 418.0,256.6 418.5,256.6 419.0,256.6 419.5,256.6 420.0,256.6 420.5,256.6 421.0,256.6 421.5,256.6 422.0,256.6 422.5,256.6 423.0,256.6 423.5,256.6 424.0,256.6 424.5,256.6 425.0,256.6 425.5,256.6 426.0,256.6 426.5,256.6 427.0,256.6 427.5,256.6 428.0,256.6 428.5,256.6 429.0,256.6 429.5,256.6 430.0,256.6 430.5,256.6 431.0,256.6 431.5,256.6 432.0,256.6 432.5,256.6 433.0,256.6 433.5,256.6 434.0,256.6 434.5,256.6 435.0,256.6 435.5,256.6 436.0,256.6 436.5,256.6 437.0,256.6 437.5,256.6 438.0,256.6 438.6,256.6 439.1,256.6 439.6,256.6 440.1,256.6 440.6,256.6 441.1,256.6 441.6,256.6 442.1,256.6 442.6,256.6 443.1,256.6 443.6,256.6 444.1,256.6 444.6,256.6 445.1,256.6 445.6,256.6 446.1,256.6 446.6,256.6 447.1,256.6 447.6,256.6 448.1,256.6 448.6,256.6 449.1,256.6 449.6,256.6 450.1,256.5 450.6,256.5 451.1,256.5 451.6,256.4 452.1,256.3 452.6,256.1 453.1,255.9 453.6,255.6 454.1,255.2 454.6,254.7 455.1,254.1 455.6,253.5 456.1,252.7 456.6,252.0 457.1,251.1 457.6,250.3 458.1,249.4 458.6,248.5 459.1,247.6 459.6,246.7 460.1,245.8 460.6,244.8 461.1,243.9 461.6,242.9 462.1,242.0 462.6,241.0 463.1,240.0 463.6,239.1 464.1,238.1 464.6,237.1 465.1,236.1 465.6,235.1 466.1,234.1 466.6,233.1 467.1,232.2 467.6,231.2 468.1,230.1 468.6,229.1 469.1,228.1 469.6,227.1 470.1,226.1 470.6,225.1 471.1,224.1 471.6,223.0 472.1,222.0 472.6,221.0 473.1,220.0 473.6,218.9 474.1,217.9 474.6,216.9 475.1,215.8 475.6,214.8 476.1,213.8 476.6,212.7 477.1,211.7 477.6,210.6 478.1,209.6 478.6,208.5 479.1,207.5 479.6,206.4 480.1,205.4 480.6,204.3 481.1,203.3 481.6,202.2 482.1,201.1 482.6,200.1 483.1,199.0 483.6,197.9 484.1,196.9 484.6,195.8 485.1,194.7 485.6,193.7 486.1,192.6 486.6,191.5 487.1,190.4 487.6,189.4 488.1,188.3 488.6,187.2 489.1,186.1 489.6,185.1 490.1,184.0 490.6,182.9 491.1,181.8 491.6,180.7 492.1,179.6 492.6,178.5 493.1,177.5 493.6,176.4 494.1,175.3 494.6,174.2 495.1,173.1 495.6,172.0 496.1,170.9 496.6,169.8 497.1,168.7 497.6,167.6 498.1,166.5" fill="none" stroke="#fff" stroke-opacity="0.5" stroke-width="1.0" stroke-dasharray="1.1,0.5"/><polyline points="378.5,256.6 379.0,256.6 379.5,256.6 380.0,256.6 380.5,256.6 381.0,256.6 381.5,256.6 382.0,256.6 382.5,256.6 383.0,256.6 383.5,256.6 384.0,256.6 384.5,256.6 385.0,256.6 385.5,256.6 386.0,256.6 386.5,256.6 387.0,256.6 387.5,256.6 388.0,256.6 388.5,256.6 389.0,256.6 389.5,256.6 390.0,256.6 390.5,256.6 391.0,256.6 391.5,256.6 392.0,256.6 392.5,256.6 393.0,256.6 393.5,256.6 394.0,256.6 394.5,256.6 395.0,256.6 395.5,256.6 396.0,256.6 396.5,256.6 397.0,256.6 397.5,256.6 398.0,256.6 398.5,256.6 399.0,256.6 399.5,256.6 400.0,256.6 400.5,256.6 401.0,256.6 401.5,256.6 402.0,256.6 402.5,256.6 403.0,256.6 403.5,256.6 404.0,256.6 404.5,256.6 405.0,256.6 405.5,256.6 406.0,256.6 406.5,256.6 407.0,256.6 407.5,256.6 408.0,256.6 408.5,256.6 409.0,256.6 409.5,256.6 410.0,256.6 410.5,256.6 411.0,256.6 411.5,256.6 412.0,256.6 412.5,256.6 413.0,256.6 413.5,256.6 414.0,256.6 414.5,256.6 415.0,256.6 415.5,256.6 416.0,256.6 416.5,256.6 417.0,256.6 417.5,256.6 418.0,256.6 418.5,256.6 419.0,256.6 419.5,256.6 420.0,256.6 420.5,256.6 421.0,256.6 421.5,256.6 422.0,256.6 422.5,256.6 423.0,256.6 423.5,256.6 424.0,256.6 424.5,256.6 425.0,256.6 425.5,256.6 426.0,256.6 426.5,256.6 427.0,256.6 427.5,256.6 428.0,256.6 428.5,256.6 429.0,256.6 429.5,256.6 430.0,256.6 430.5,256.6 431.0,256.6 431.5,256.6 432.0,256.6 432.5,256.6 433.0,256.6 433.5,256.6 434.0,256.6 434.5,256.6 435.0,256.6 435.5,256.6 436.0,256.6 436.5,256.6 437.0,256.6 437.5,256.6 438.0,256.6 438.6,256.6 439.1,256.6 439.6,256.6 440.1,256.6 440.6,256.6 441.1,256.6 441.6,256.6 442.1,256.6 442.6,256.6 443.1,256.6 443.6,256.6 444.1,256.6 444.6,256.6 445.1,256.6 445.6,256.6 446.1,256.6 446.6,256.6 447.1,256.6 447.6,256.6 448.1,256.6 448.6,256.6 449.1,256.6 449.6,256.6 450.1,256.5 450.6,256.5 451.1,256.4 451.6,256.3 452.1,256.2 452.6,256.0 453.1,255.8 453.6,255.4 454.1,255.0 454.6,254.4 455.1,253.8 455.6,253.0 456.1,252.2 456.6,251.4 457.1,250.5 457.6,249.5 458.1,248.5 458.6,247.6 459.1,246.6 459.6,245.6 460.1,244.5 460.6,243.5 461.1,242.5 461.6,241.4 462.1,240.4 462.6,239.4 463.1,238.3 463.6,237.2 464.1,236.2 464.6,235.1 465.1,234.1 465.6,233.0 466.1,231.9 466.6,230.9 467.1,229.8 467.6,228.7 468.1,227.6 468.6,226.5 469.1,225.5 469.6,224.4 470.1,223.3 470.6,222.2 471.1,221.1 471.6,220.0 472.1,218.9 472.6,217.8 473.1,216.7 473.6,215.6 474.1,214.5 474.6,213.4 475.1,212.3 475.6,211.2 476.1,210.1 476.6,209.0 477.1,207.9 477.6,206.8 478.1,205.6 478.6,204.5 479.1,203.4 479.6,202.3 480.1,201.2 480.6,200.1 481.1,198.9 481.6,197.8 482.1,196.7 482.6,195.6 483.1,194.4 483.6,193.3 484.1,192.2 484.6,191.0 485.1,189.9 485.6,188.8 486.1,187.6 486.6,186.5 487.1,185.4 487.6,184.2 488.1,183.1 488.6,182.0 489.1,180.8 489.6,179.7 490.1,178.5 490.6,177.4 491.1,176.2 491.6,175.1 492.1,174.0 492.6,172.8 493.1,171.7 493.6,170.5 494.1,169.4 494.6,168.2 495.1,167.1 495.6,165.9 496.1,164.8 496.6,163.6 497.1,162.5 497.6,161.3 498.1,160.1" fill="none" stroke="#c8707a" stroke-width="2.5" stroke-linejoin="round" stroke-linecap="round"/><polyline points="378.5,256.6 379.0,256.6 379.5,256.6 380.0,256.6 380.5,256.6 381.0,256.6 381.5,256.6 382.0,256.6 382.5,256.6 383.0,256.6 383.5,256.6 384.0,256.6 384.5,256.6 385.0,256.6 385.5,256.6 386.0,256.6 386.5,256.6 387.0,256.6 387.5,256.6 388.0,256.6 388.5,256.6 389.0,256.6 389.5,256.6 390.0,256.6 390.5,256.6 391.0,256.6 391.5,256.6 392.0,256.6 392.5,256.6 393.0,256.6 393.5,256.6 394.0,256.6 394.5,256.6 395.0,256.6 395.5,256.6 396.0,256.6 396.5,256.6 397.0,256.6 397.5,256.6 398.0,256.6 398.5,256.6 399.0,256.6 399.5,256.6 400.0,256.6 400.5,256.6 401.0,256.6 401.5,256.6 402.0,256.6 402.5,256.6 403.0,256.6 403.5,256.6 404.0,256.6 404.5,256.6 405.0,256.6 405.5,256.6 406.0,256.6 406.5,256.6 407.0,256.6 407.5,256.6 408.0,256.6 408.5,256.6 409.0,256.6 409.5,256.6 410.0,256.6 410.5,256.6 411.0,256.6 411.5,256.6 412.0,256.6 412.5,256.6 413.0,256.6 413.5,256.6 414.0,256.6 414.5,256.6 415.0,256.6 415.5,256.6 416.0,256.6 416.5,256.6 417.0,256.6 417.5,256.6 418.0,256.6 418.5,256.6 419.0,256.6 419.5,256.6 420.0,256.6 420.5,256.6 421.0,256.6 421.5,256.6 422.0,256.6 422.5,256.6 423.0,256.6 423.5,256.6 424.0,256.6 424.5,256.6 425.0,256.6 425.5,256.6 426.0,256.6 426.5,256.6 427.0,256.6 427.5,256.6 428.0,256.6 428.5,256.6 429.0,256.6 429.5,256.6 430.0,256.6 430.5,256.6 431.0,256.6 431.5,256.6 432.0,256.6 432.5,256.6 433.0,256.6 433.5,256.6 434.0,256.6 434.5,256.6 435.0,256.6 435.5,256.6 436.0,256.6 436.5,256.6 437.0,256.6 437.5,256.6 438.0,256.6 438.6,256.6 439.1,256.6 439.6,256.6 440.1,256.6 440.6,256.6 441.1,256.6 441.6,256.6 442.1,256.6 442.6,256.6 443.1,256.6 443.6,256.6 444.1,256.6 444.6,256.6 445.1,256.6 445.6,256.6 446.1,256.6 446.6,256.6 447.1,256.6 447.6,256.6 448.1,256.6 448.6,256.6 449.1,256.6 449.6,256.6 450.1,256.5 450.6,256.5 451.1,256.4 451.6,256.3 452.1,256.2 452.6,256.0 453.1,255.8 453.6,255.4 454.1,255.0 454.6,254.4 455.1,253.8 455.6,253.0 456.1,252.2 456.6,251.4 457.1,250.5 457.6,249.5 458.1,248.5 458.6,247.6 459.1,246.6 459.6,245.6 460.1,244.5 460.6,243.5 461.1,242.5 461.6,241.4 462.1,240.4 462.6,239.4 463.1,238.3 463.6,237.2 464.1,236.2 464.6,235.1 465.1,234.1 465.6,233.0 466.1,231.9 466.6,230.9 467.1,229.8 467.6,228.7 468.1,227.6 468.6,226.5 469.1,225.5 469.6,224.4 470.1,223.3 470.6,222.2 471.1,221.1 471.6,220.0 472.1,218.9 472.6,217.8 473.1,216.7 473.6,215.6 474.1,214.5 474.6,213.4 475.1,212.3 475.6,211.2 476.1,210.1 476.6,209.0 477.1,207.9 477.6,206.8 478.1,205.6 478.6,204.5 479.1,203.4 479.6,202.3 480.1,201.2 480.6,200.1 481.1,198.9 481.6,197.8 482.1,196.7 482.6,195.6 483.1,194.4 483.6,193.3 484.1,192.2 484.6,191.0 485.1,189.9 485.6,188.8 486.1,187.6 486.6,186.5 487.1,185.4 487.6,184.2 488.1,183.1 488.6,182.0 489.1,180.8 489.6,179.7 490.1,178.5 490.6,177.4 491.1,176.2 491.6,175.1 492.1,174.0 492.6,172.8 493.1,171.7 493.6,170.5 494.1,169.4 494.6,168.2 495.1,167.1 495.6,165.9 496.1,164.8 496.6,163.6 497.1,162.5 497.6,161.3 498.1,160.1" fill="none" stroke="#fff" stroke-opacity="0.5" stroke-width="1.0" stroke-dasharray="1.1,0.5"/><line x1="417.2" y1="154.7" x2="433.0" y2="154.7" stroke="#6a6a6a" stroke-width="1.5"/><circle cx="424.9" cy="154.7" r="1.1" fill="#fff" stroke="#6a6a6a" stroke-width="0.7"/><text x="434.2" y="156.7" font-size="5.8" fill="#555" text-anchor="start" font-family='"Liberation Sans", sans-serif' font-weight="normal" textLength="17" lengthAdjust="spacingAndGlyphs" >V<tspan font-size="3.6" dy="1.2">C</tspan><tspan dy="-1.2">=0V</tspan></text><line x1="417.2" y1="164.9" x2="433.0" y2="164.9" stroke="#4d93c4" stroke-width="1.5"/><circle cx="424.9" cy="164.9" r="1.1" fill="#fff" stroke="#4d93c4" stroke-width="0.7"/><text x="434.2" y="166.9" font-size="5.8" fill="#4d93c4" text-anchor="start" font-family='"Liberation Sans", sans-serif' font-weight="normal" textLength="20" lengthAdjust="spacingAndGlyphs" >V<tspan font-size="3.6" dy="1.2">C</tspan><tspan dy="-1.2">=10V</tspan></text><line x1="417.2" y1="175" x2="433.0" y2="175" stroke="#c9a04e" stroke-width="1.5"/><circle cx="424.9" cy="175" r="1.1" fill="#fff" stroke="#c9a04e" stroke-width="0.7"/><text x="434.2" y="177" font-size="5.8" fill="#c9a04e" text-anchor="start" font-family='"Liberation Sans", sans-serif' font-weight="normal" textLength="20" lengthAdjust="spacingAndGlyphs" >V<tspan font-size="3.6" dy="1.2">C</tspan><tspan dy="-1.2">=20V</tspan></text><line x1="457.1" y1="154.7" x2="470.20000000000005" y2="154.7" stroke="#6aae2e" stroke-width="1.5"/><circle cx="463.6" cy="154.7" r="1.1" fill="#fff" stroke="#6aae2e" stroke-width="0.7"/><text x="471" y="156.7" font-size="5.8" fill="#6aae2e" text-anchor="start" font-family='"Liberation Sans", sans-serif' font-weight="normal" textLength="20" lengthAdjust="spacingAndGlyphs" >V<tspan font-size="3.6" dy="1.2">C</tspan><tspan dy="-1.2">=30V</tspan></text><line x1="457.1" y1="163.4" x2="470.20000000000005" y2="163.4" stroke="#c8707a" stroke-width="1.5"/><circle cx="463.6" cy="163.4" r="1.1" fill="#fff" stroke="#c8707a" stroke-width="0.7"/><text x="471" y="165.4" font-size="5.8" fill="#c8707a" text-anchor="start" font-family='"Liberation Sans", sans-serif' font-weight="normal" textLength="20" lengthAdjust="spacingAndGlyphs" >V<tspan font-size="3.6" dy="1.2">C</tspan><tspan dy="-1.2">=40V</tspan></text><line x1="537.5" y1="150.4" x2="680.2" y2="150.4" stroke="#222" stroke-width="1.2"/><line x1="680.2" y1="150.4" x2="680.2" y2="267.2" stroke="#999" stroke-width="1.6"/><line x1="537.5" y1="267.2" x2="680.2" y2="267.2" stroke="#9a9a9a" stroke-width="1.6"/><line x1="537.5" y1="150.4" x2="537.5" y2="267.2" stroke="#222" stroke-width="1.2"/><line x1="537.5" y1="267.2" x2="537.5" y2="269.0" stroke="#222" stroke-width="0.9"/><text x="537.5" y="275.5" font-size="6" fill="#555" text-anchor="middle" font-family='"Liberation Serif", serif' font-weight="normal" >0.0</text><line x1="551.5" y1="267.2" x2="551.5" y2="268.4" stroke="#222" stroke-width="0.9"/><line x1="565.5" y1="267.2" x2="565.5" y2="269.0" stroke="#222" stroke-width="0.9"/><text x="565.5" y="275.5" font-size="6" fill="#555" text-anchor="middle" font-family='"Liberation Serif", serif' font-weight="normal" >0.5</text><line x1="579.5" y1="267.2" x2="579.5" y2="268.4" stroke="#222" stroke-width="0.9"/><line x1="593.5" y1="267.2" x2="593.5" y2="269.0" stroke="#222" stroke-width="0.9"/><text x="593.5" y="275.5" font-size="6" fill="#555" text-anchor="middle" font-family='"Liberation Serif", serif' font-weight="normal" >1.0</text><line x1="607.5" y1="267.2" x2="607.5" y2="268.4" stroke="#222" stroke-width="0.9"/><line x1="621.5" y1="267.2" x2="621.5" y2="269.0" stroke="#222" stroke-width="0.9"/><text x="621.5" y="275.5" font-size="6" fill="#555" text-anchor="middle" font-family='"Liberation Serif", serif' font-weight="normal" >1.5</text><line x1="635.5" y1="267.2" x2="635.5" y2="268.4" stroke="#222" stroke-width="0.9"/><line x1="649.5" y1="267.2" x2="649.5" y2="269.0" stroke="#222" stroke-width="0.9"/><text x="649.5" y="275.5" font-size="6" fill="#555" text-anchor="middle" font-family='"Liberation Serif", serif' font-weight="normal" >2.0</text><line x1="663.5" y1="267.2" x2="663.5" y2="268.4" stroke="#222" stroke-width="0.9"/><line x1="677.5" y1="267.2" x2="677.5" y2="269.0" stroke="#222" stroke-width="0.9"/><text x="677.5" y="275.5" font-size="6" fill="#555" text-anchor="middle" font-family='"Liberation Serif", serif' font-weight="normal" >2.5</text><line x1="535.7" y1="267.4" x2="537.5" y2="267.4" stroke="#222" stroke-width="0.9"/><text x="534.6" y="269.5" font-size="6" fill="#444" text-anchor="end" font-family='"Liberation Serif", serif' font-weight="normal" >-4</text><line x1="536.3" y1="260.0" x2="537.5" y2="260.0" stroke="#222" stroke-width="0.9"/><line x1="535.7" y1="252.7" x2="537.5" y2="252.7" stroke="#222" stroke-width="0.9"/><text x="534.6" y="254.8" font-size="6" fill="#444" text-anchor="end" font-family='"Liberation Serif", serif' font-weight="normal" >-3</text><line x1="536.3" y1="245.4" x2="537.5" y2="245.4" stroke="#222" stroke-width="0.9"/><line x1="535.7" y1="238.0" x2="537.5" y2="238.0" stroke="#222" stroke-width="0.9"/><text x="534.6" y="240.1" font-size="6" fill="#444" text-anchor="end" font-family='"Liberation Serif", serif' font-weight="normal" >-2</text><line x1="536.3" y1="230.7" x2="537.5" y2="230.7" stroke="#222" stroke-width="0.9"/><line x1="535.7" y1="223.4" x2="537.5" y2="223.4" stroke="#222" stroke-width="0.9"/><text x="534.6" y="225.5" font-size="6" fill="#444" text-anchor="end" font-family='"Liberation Serif", serif' font-weight="normal" >-1</text><line x1="536.3" y1="216.0" x2="537.5" y2="216.0" stroke="#222" stroke-width="0.9"/><line x1="535.7" y1="208.7" x2="537.5" y2="208.7" stroke="#222" stroke-width="0.9"/><text x="534.6" y="210.8" font-size="6" fill="#444" text-anchor="end" font-family='"Liberation Serif", serif' font-weight="normal" >0</text><line x1="536.3" y1="201.4" x2="537.5" y2="201.4" stroke="#222" stroke-width="0.9"/><line x1="535.7" y1="194.0" x2="537.5" y2="194.0" stroke="#222" stroke-width="0.9"/><text x="534.6" y="196.1" font-size="6" fill="#444" text-anchor="end" font-family='"Liberation Serif", serif' font-weight="normal" >1</text><line x1="536.3" y1="186.7" x2="537.5" y2="186.7" stroke="#222" stroke-width="0.9"/><line x1="535.7" y1="179.4" x2="537.5" y2="179.4" stroke="#222" stroke-width="0.9"/><text x="534.6" y="181.5" font-size="6" fill="#444" text-anchor="end" font-family='"Liberation Serif", serif' font-weight="normal" >2</text><line x1="536.3" y1="172.0" x2="537.5" y2="172.0" stroke="#222" stroke-width="0.9"/><line x1="535.7" y1="164.7" x2="537.5" y2="164.7" stroke="#222" stroke-width="0.9"/><text x="534.6" y="166.8" font-size="6" fill="#444" text-anchor="end" font-family='"Liberation Serif", serif' font-weight="normal" >3</text><line x1="536.3" y1="157.4" x2="537.5" y2="157.4" stroke="#222" stroke-width="0.9"/><line x1="535.7" y1="150.0" x2="537.5" y2="150.0" stroke="#222" stroke-width="0.9"/><text x="534.6" y="152.1" font-size="6" fill="#444" text-anchor="end" font-family='"Liberation Serif", serif' font-weight="normal" >4</text><text x="593" y="285.9" font-size="7.2" fill="#111" text-anchor="start" font-family='"Liberation Serif", serif' font-weight="bold" textLength="31" lengthAdjust="spacingAndGlyphs" >Time (ms)</text><text transform="translate(526.2,211.5) rotate(-90)" font-size="7.6" fill="#111" text-anchor="middle" font-family='"Liberation Serif", serif' font-weight="bold" textLength="68.5" lengthAdjust="spacingAndGlyphs">Output Voltage (V)</text><text x="538.8" y="156.7" font-size="6" fill="#777" text-anchor="start" font-family='"Liberation Serif", serif' font-weight="normal" textLength="26.4" lengthAdjust="spacingAndGlyphs" >R<tspan font-size="3.5" dy="1">a</tspan><tspan dy="-1">=100kΩ</tspan></text><polyline points="537.5,223.0 537.9,223.2 538.2,223.4 538.6,223.6 538.9,223.7 539.3,223.8 539.6,223.9 540.0,223.9 540.4,224.0 540.7,224.0 541.1,223.9 541.4,223.9 541.8,223.8 542.2,223.7 542.5,223.6 542.9,223.4 543.2,223.3 543.6,223.1 543.9,222.8 544.3,222.6 544.7,222.3 545.0,222.0 545.4,221.7 545.7,221.4 546.1,221.0 546.4,220.7 546.8,220.3 547.2,219.8 547.5,219.4 547.9,219.0 548.2,218.5 548.6,218.0 549.0,217.5 549.3,217.0 549.7,216.5 550.0,215.9 550.4,215.4 550.7,214.8 551.1,214.2 551.5,213.6 551.8,213.0 552.2,212.4 552.5,211.8 552.9,211.2 553.2,210.6 553.6,210.0 554.0,209.3 554.3,208.7 554.7,208.1 555.0,207.5 555.4,206.8 555.8,206.2 556.1,205.6 556.5,205.0 556.8,204.3 557.2,203.7 557.5,203.1 557.9,202.6 558.3,202.0 558.6,201.4 559.0,200.8 559.3,200.3 559.7,199.8 560.0,199.2 560.4,198.7 560.8,198.2 561.1,197.8 561.5,197.3 561.8,196.9 562.2,196.4 562.6,196.0 562.9,195.6 563.3,195.3 563.6,194.9 564.0,194.6 564.3,194.3 564.7,194.0 565.1,193.8 565.4,193.6 565.8,193.3 566.1,193.2 566.5,193.0 566.8,192.9 567.2,192.8 567.6,192.7 567.9,192.6 568.3,192.6 568.6,192.6 569.0,192.6 569.4,192.6 569.7,192.7 570.1,192.8 570.4,192.9 570.8,193.0 571.1,193.2 571.5,193.4 571.9,193.6 572.2,193.8 572.6,194.1 572.9,194.4 573.3,194.7 573.6,195.0 574.0,195.4 574.4,195.7 574.7,196.1 575.1,196.5 575.4,196.9 575.8,197.4 576.2,197.8 576.5,198.3 576.9,198.8 577.2,199.3 577.6,199.9 577.9,200.4 578.3,200.9 578.7,201.5 579.0,202.1 579.4,202.7 579.7,203.3 580.1,203.9 580.4,204.5 580.8,205.1 581.2,205.7 581.5,206.3 581.9,206.9 582.2,207.6 582.6,208.2 583.0,208.8 583.3,209.5 583.7,210.1 584.0,210.7 584.4,211.3 584.7,211.9 585.1,212.6 585.5,213.2 585.8,213.7 586.2,214.3 586.5,214.9 586.9,215.5 587.2,216.0 587.6,216.6 588.0,217.1 588.3,217.6 588.7,218.1 589.0,218.6 589.4,219.1 589.8,219.5 590.1,219.9 590.5,220.3 590.8,220.7 591.2,221.1 591.5,221.5 591.9,221.8 592.3,222.1 592.6,222.4 593.0,222.6 593.3,222.9 593.7,223.1 594.0,223.3 594.4,223.5 594.8,223.6 595.1,223.7 595.5,223.8 595.8,223.9 596.2,223.9 596.6,224.0 596.9,224.0 597.3,223.9 597.6,223.9 598.0,223.8 598.3,223.7 598.7,223.5 599.1,223.4 599.4,223.2 599.8,223.0 600.1,222.8 600.5,222.5 600.8,222.3 601.2,222.0 601.6,221.6 601.9,221.3 602.3,220.9 602.6,220.6 603.0,220.2 603.4,219.7 603.7,219.3 604.1,218.8 604.4,218.4 604.8,217.9 605.1,217.4 605.5,216.9 605.9,216.3 606.2,215.8 606.6,215.2 606.9,214.7 607.3,214.1 607.6,213.5 608.0,212.9 608.4,212.3 608.7,211.7 609.1,211.1 609.4,210.4 609.8,209.8 610.2,209.2 610.5,208.6 610.9,207.9 611.2,207.3 611.6,206.7 611.9,206.0 612.3,205.4 612.7,204.8 613.0,204.2 613.4,203.6 613.7,203.0 614.1,202.4 614.4,201.8 614.8,201.3 615.2,200.7 615.5,200.2 615.9,199.6 616.2,199.1 616.6,198.6 617.0,198.1 617.3,197.6 617.7,197.2 618.0,196.7 618.4,196.3 618.7,195.9 619.1,195.6 619.5,195.2 619.8,194.9 620.2,194.5 620.5,194.2 620.9,194.0 621.2,193.7 621.6,193.5 622.0,193.3 622.3,193.1 622.7,193.0 623.0,192.8 623.4,192.7 623.8,192.7 624.1,192.6 624.5,192.6 624.8,192.6 625.2,192.6 625.5,192.6 625.9,192.7 626.3,192.8 626.6,192.9 627.0,193.1 627.3,193.2 627.7,193.4 628.0,193.7 628.4,193.9 628.8,194.2 629.1,194.4 629.5,194.8 629.8,195.1 630.2,195.4 630.6,195.8 630.9,196.2 631.3,196.6 631.6,197.1 632.0,197.5 632.3,198.0 632.7,198.5 633.1,198.9 633.4,199.5 633.8,200.0 634.1,200.5 634.5,201.1 634.8,201.7 635.2,202.2 635.6,202.8 635.9,203.4 636.3,204.0 636.6,204.6 637.0,205.2 637.4,205.9 637.7,206.5 638.1,207.1 638.4,207.7 638.8,208.4 639.1,209.0 639.5,209.6 639.9,210.2 640.2,210.9 640.6,211.5 640.9,212.1 641.3,212.7 641.6,213.3 642.0,213.9 642.4,214.5 642.7,215.0 643.1,215.6 643.4,216.2 643.8,216.7 644.2,217.2 644.5,217.7 644.9,218.2 645.2,218.7 645.6,219.2 645.9,219.6 646.3,220.0 646.7,220.4 647.0,220.8 647.4,221.2 647.7,221.5 648.1,221.9 648.4,222.2 648.8,222.4 649.2,222.7 649.5,222.9 649.9,223.2 650.2,223.3 650.6,223.5 651.0,223.6 651.3,223.8 651.7,223.8 652.0,223.9 652.4,223.9 652.7,224.0 653.1,223.9 653.5,223.9 653.8,223.8 654.2,223.8 654.5,223.6 654.9,223.5 655.2,223.3 655.6,223.2 656.0,223.0 656.3,222.7 656.7,222.5 657.0,222.2 657.4,221.9 657.8,221.6 658.1,221.2 658.5,220.8 658.8,220.5 659.2,220.1 659.5,219.6 659.9,219.2 660.3,218.7 660.6,218.3 661.0,217.8 661.3,217.3 661.7,216.7 662.0,216.2 662.4,215.6 662.8,215.1 663.1,214.5 663.5,213.9 663.8,213.3 664.2,212.7 664.6,212.1 664.9,211.5 665.3,210.9 665.6,210.3 666.0,209.7 666.3,209.0 666.7,208.4 667.1,207.8 667.4,207.1 667.8,206.5 668.1,205.9 668.5,205.3 668.8,204.7 669.2,204.0 669.6,203.4 669.9,202.8 670.3,202.3 670.6,201.7 671.0,201.1 671.4,200.6 671.7,200.0 672.1,199.5 672.4,199.0 672.8,198.5 673.1,198.0 673.5,197.5 673.9,197.1 674.2,196.6 674.6,196.2 674.9,195.8 675.3,195.5 675.6,195.1 676.0,194.8 676.4,194.5 676.7,194.2 677.1,193.9 677.4,193.7 677.8,193.4 678.2,193.2 678.5,193.1 678.9,192.9 679.2,192.8 679.6,192.7" fill="none" stroke="#555" stroke-width="1.3"/><polyline points="537.5,233.4 537.9,233.6 538.2,233.8 538.6,234.0 538.9,234.1 539.3,234.2 539.6,234.3 540.0,234.3 540.4,234.4 540.7,234.4 541.1,234.3 541.4,234.3 541.8,234.2 542.2,234.1 542.5,234.0 542.9,233.8 543.2,233.6 543.6,233.4 543.9,233.2 544.3,232.9 544.7,232.6 545.0,232.3 545.4,231.9 545.7,231.5 546.1,231.0 546.4,230.5 546.8,230.0 547.2,229.4 547.5,228.8 547.9,228.2 548.2,227.5 548.6,226.7 549.0,226.0 549.3,225.1 549.7,224.2 550.0,223.3 550.4,222.3 550.7,221.3 551.1,220.3 551.5,219.1 551.8,218.0 552.2,216.8 552.5,215.6 552.9,214.4 553.2,213.1 553.6,211.8 554.0,210.5 554.3,209.2 554.7,207.9 555.0,206.6 555.4,205.3 555.8,204.0 556.1,202.7 556.5,201.4 556.8,200.2 557.2,199.0 557.5,197.9 557.9,196.7 558.3,195.7 558.6,194.6 559.0,193.6 559.3,192.7 559.7,191.8 560.0,190.9 560.4,190.1 560.8,189.3 561.1,188.6 561.5,188.0 561.8,187.3 562.2,186.7 562.6,186.2 562.9,185.7 563.3,185.2 563.6,184.8 564.0,184.4 564.3,184.1 564.7,183.7 565.1,183.5 565.4,183.2 565.8,183.0 566.1,182.8 566.5,182.6 566.8,182.5 567.2,182.3 567.6,182.3 567.9,182.2 568.3,182.2 568.6,182.1 569.0,182.2 569.4,182.2 569.7,182.3 570.1,182.4 570.4,182.5 570.8,182.6 571.1,182.8 571.5,183.0 571.9,183.2 572.2,183.5 572.6,183.8 572.9,184.1 573.3,184.5 573.6,184.9 574.0,185.3 574.4,185.8 574.7,186.3 575.1,186.9 575.4,187.4 575.8,188.1 576.2,188.8 576.5,189.5 576.9,190.3 577.2,191.1 577.6,191.9 577.9,192.9 578.3,193.8 578.7,194.8 579.0,195.9 579.4,197.0 579.7,198.1 580.1,199.3 580.4,200.5 580.8,201.7 581.2,202.9 581.5,204.2 581.9,205.5 582.2,206.8 582.6,208.1 583.0,209.5 583.3,210.8 583.7,212.1 584.0,213.3 584.4,214.6 584.7,215.8 585.1,217.1 585.5,218.2 585.8,219.4 586.2,220.5 586.5,221.5 586.9,222.5 587.2,223.5 587.6,224.4 588.0,225.3 588.3,226.1 588.7,226.9 589.0,227.6 589.4,228.3 589.8,229.0 590.1,229.6 590.5,230.1 590.8,230.6 591.2,231.1 591.5,231.6 591.9,232.0 592.3,232.3 592.6,232.7 593.0,233.0 593.3,233.2 593.7,233.5 594.0,233.7 594.4,233.9 594.8,234.0 595.1,234.1 595.5,234.2 595.8,234.3 596.2,234.4 596.6,234.4 596.9,234.4 597.3,234.3 597.6,234.3 598.0,234.2 598.3,234.1 598.7,233.9 599.1,233.8 599.4,233.6 599.8,233.4 600.1,233.1 600.5,232.8 600.8,232.5 601.2,232.2 601.6,231.8 601.9,231.4 602.3,230.9 602.6,230.4 603.0,229.9 603.4,229.3 603.7,228.7 604.1,228.0 604.4,227.3 604.8,226.6 605.1,225.8 605.5,224.9 605.9,224.0 606.2,223.1 606.6,222.1 606.9,221.1 607.3,220.0 607.6,218.9 608.0,217.7 608.4,216.5 608.7,215.3 609.1,214.1 609.4,212.8 609.8,211.5 610.2,210.2 610.5,208.9 610.9,207.6 611.2,206.2 611.6,204.9 611.9,203.7 612.3,202.4 612.7,201.1 613.0,199.9 613.4,198.7 613.7,197.6 614.1,196.5 614.4,195.4 614.8,194.4 615.2,193.4 615.5,192.4 615.9,191.6 616.2,190.7 616.6,189.9 617.0,189.2 617.3,188.5 617.7,187.8 618.0,187.2 618.4,186.6 618.7,186.1 619.1,185.6 619.5,185.1 619.8,184.7 620.2,184.3 620.5,184.0 620.9,183.7 621.2,183.4 621.6,183.1 622.0,182.9 622.3,182.7 622.7,182.6 623.0,182.4 623.4,182.3 623.8,182.2 624.1,182.2 624.5,182.2 624.8,182.1 625.2,182.2 625.5,182.2 625.9,182.3 626.3,182.4 626.6,182.5 627.0,182.7 627.3,182.9 627.7,183.1 628.0,183.3 628.4,183.6 628.8,183.9 629.1,184.2 629.5,184.6 629.8,185.0 630.2,185.4 630.6,185.9 630.9,186.4 631.3,187.0 631.6,187.6 632.0,188.2 632.3,188.9 632.7,189.7 633.1,190.5 633.4,191.3 633.8,192.2 634.1,193.1 634.5,194.1 634.8,195.1 635.2,196.1 635.6,197.2 635.9,198.4 636.3,199.5 636.6,200.8 637.0,202.0 637.4,203.3 637.7,204.5 638.1,205.8 638.4,207.2 638.8,208.5 639.1,209.8 639.5,211.1 639.9,212.4 640.2,213.7 640.6,214.9 640.9,216.2 641.3,217.4 641.6,218.5 642.0,219.6 642.4,220.7 642.7,221.8 643.1,222.8 643.4,223.7 643.8,224.6 644.2,225.5 644.5,226.3 644.9,227.1 645.2,227.8 645.6,228.5 645.9,229.1 646.3,229.7 646.7,230.3 647.0,230.8 647.4,231.2 647.7,231.7 648.1,232.1 648.4,232.4 648.8,232.7 649.2,233.0 649.5,233.3 649.9,233.5 650.2,233.7 650.6,233.9 651.0,234.0 651.3,234.2 651.7,234.3 652.0,234.3 652.4,234.4 652.7,234.4 653.1,234.4 653.5,234.3 653.8,234.3 654.2,234.2 654.5,234.1 654.9,233.9 655.2,233.7 655.6,233.5 656.0,233.3 656.3,233.0 656.7,232.8 657.0,232.4 657.4,232.1 657.8,231.7 658.1,231.3 658.5,230.8 658.8,230.3 659.2,229.7 659.5,229.2 659.9,228.5 660.3,227.8 660.6,227.1 661.0,226.4 661.3,225.5 661.7,224.7 662.0,223.8 662.4,222.8 662.8,221.8 663.1,220.8 663.5,219.7 663.8,218.6 664.2,217.4 664.6,216.2 664.9,215.0 665.3,213.7 665.6,212.5 666.0,211.2 666.3,209.9 666.7,208.5 667.1,207.2 667.4,205.9 667.8,204.6 668.1,203.3 668.5,202.1 668.8,200.8 669.2,199.6 669.6,198.4 669.9,197.3 670.3,196.2 670.6,195.1 671.0,194.1 671.4,193.1 671.7,192.2 672.1,191.3 672.4,190.5 672.8,189.7 673.1,189.0 673.5,188.3 673.9,187.6 674.2,187.0 674.6,186.5 674.9,185.9 675.3,185.5 675.6,185.0 676.0,184.6 676.4,184.2 676.7,183.9 677.1,183.6 677.4,183.3 677.8,183.1 678.2,182.9 678.5,182.7 678.9,182.5 679.2,182.4 679.6,182.3" fill="none" stroke="#4a8cc0" stroke-width="2"/><polyline points="537.5,238.4 537.9,238.8 538.2,239.1 538.6,239.4 538.9,239.6 539.3,239.8 539.6,239.9 540.0,240.0 540.4,240.1 540.7,240.1 541.1,240.0 541.4,239.9 541.8,239.8 542.2,239.6 542.5,239.4 542.9,239.1 543.2,238.8 543.6,238.4 543.9,238.0 544.3,237.5 544.7,237.0 545.0,236.4 545.4,235.8 545.7,235.2 546.1,234.5 546.4,233.8 546.8,233.0 547.2,232.2 547.5,231.3 547.9,230.4 548.2,229.5 548.6,228.5 549.0,227.5 549.3,226.5 549.7,225.4 550.0,224.3 550.4,223.1 550.7,222.0 551.1,220.8 551.5,219.5 551.8,218.3 552.2,217.0 552.5,215.8 552.9,214.5 553.2,213.2 553.6,211.9 554.0,210.5 554.3,209.2 554.7,207.9 555.0,206.6 555.4,205.2 555.8,203.9 556.1,202.6 556.5,201.3 556.8,200.0 557.2,198.8 557.5,197.5 557.9,196.3 558.3,195.1 558.6,193.9 559.0,192.7 559.3,191.6 559.7,190.5 560.0,189.5 560.4,188.4 560.8,187.4 561.1,186.5 561.5,185.6 561.8,184.7 562.2,183.9 562.6,183.1 562.9,182.3 563.3,181.6 563.6,180.9 564.0,180.3 564.3,179.7 564.7,179.2 565.1,178.7 565.4,178.3 565.8,177.9 566.1,177.5 566.5,177.2 566.8,177.0 567.2,176.8 567.6,176.6 567.9,176.5 568.3,176.4 568.6,176.4 569.0,176.5 569.4,176.5 569.7,176.7 570.1,176.8 570.4,177.0 570.8,177.3 571.1,177.6 571.5,178.0 571.9,178.4 572.2,178.8 572.6,179.3 572.9,179.9 573.3,180.4 573.6,181.1 574.0,181.7 574.4,182.5 574.7,183.2 575.1,184.0 575.4,184.9 575.8,185.8 576.2,186.7 576.5,187.6 576.9,188.6 577.2,189.7 577.6,190.7 577.9,191.8 578.3,193.0 578.7,194.1 579.0,195.3 579.4,196.5 579.7,197.7 580.1,199.0 580.4,200.3 580.8,201.6 581.2,202.9 581.5,204.2 581.9,205.5 582.2,206.8 582.6,208.1 583.0,209.5 583.3,210.8 583.7,212.1 584.0,213.4 584.4,214.7 584.7,216.0 585.1,217.3 585.5,218.5 585.8,219.8 586.2,221.0 586.5,222.2 586.9,223.3 587.2,224.5 587.6,225.6 588.0,226.7 588.3,227.7 588.7,228.7 589.0,229.7 589.4,230.6 589.8,231.5 590.1,232.3 590.5,233.2 590.8,233.9 591.2,234.6 591.5,235.3 591.9,236.0 592.3,236.6 592.6,237.1 593.0,237.6 593.3,238.1 593.7,238.5 594.0,238.8 594.4,239.2 594.8,239.4 595.1,239.7 595.5,239.8 595.8,240.0 596.2,240.1 596.6,240.1 596.9,240.1 597.3,240.0 597.6,239.9 598.0,239.8 598.3,239.6 598.7,239.3 599.1,239.0 599.4,238.7 599.8,238.3 600.1,237.9 600.5,237.4 600.8,236.9 601.2,236.3 601.6,235.7 601.9,235.0 602.3,234.3 602.6,233.6 603.0,232.8 603.4,232.0 603.7,231.1 604.1,230.2 604.4,229.2 604.8,228.3 605.1,227.2 605.5,226.2 605.9,225.1 606.2,224.0 606.6,222.8 606.9,221.7 607.3,220.5 607.6,219.2 608.0,218.0 608.4,216.7 608.7,215.4 609.1,214.1 609.4,212.8 609.8,211.5 610.2,210.2 610.5,208.9 610.9,207.5 611.2,206.2 611.6,204.9 611.9,203.6 612.3,202.3 612.7,201.0 613.0,199.7 613.4,198.4 613.7,197.2 614.1,196.0 614.4,194.8 614.8,193.6 615.2,192.5 615.5,191.3 615.9,190.3 616.2,189.2 616.6,188.2 617.0,187.2 617.3,186.3 617.7,185.4 618.0,184.5 618.4,183.7 618.7,182.9 619.1,182.1 619.5,181.4 619.8,180.8 620.2,180.2 620.5,179.6 620.9,179.1 621.2,178.6 621.6,178.2 622.0,177.8 622.3,177.5 622.7,177.2 623.0,176.9 623.4,176.7 623.8,176.6 624.1,176.5 624.5,176.4 624.8,176.4 625.2,176.5 625.5,176.6 625.9,176.7 626.3,176.9 626.6,177.1 627.0,177.4 627.3,177.7 627.7,178.1 628.0,178.5 628.4,178.9 628.8,179.4 629.1,180.0 629.5,180.6 629.8,181.2 630.2,181.9 630.6,182.7 630.9,183.4 631.3,184.2 631.6,185.1 632.0,186.0 632.3,186.9 632.7,187.9 633.1,188.9 633.4,189.9 633.8,191.0 634.1,192.1 634.5,193.3 634.8,194.4 635.2,195.6 635.6,196.8 635.9,198.1 636.3,199.3 636.6,200.6 637.0,201.9 637.4,203.2 637.7,204.5 638.1,205.8 638.4,207.1 638.8,208.5 639.1,209.8 639.5,211.1 639.9,212.4 640.2,213.8 640.6,215.1 640.9,216.3 641.3,217.6 641.6,218.9 642.0,220.1 642.4,221.3 642.7,222.5 643.1,223.6 643.4,224.8 643.8,225.9 644.2,226.9 644.5,228.0 644.9,228.9 645.2,229.9 645.6,230.8 645.9,231.7 646.3,232.5 646.7,233.3 647.0,234.1 647.4,234.8 647.7,235.5 648.1,236.1 648.4,236.7 648.8,237.2 649.2,237.7 649.5,238.2 649.9,238.6 650.2,238.9 650.6,239.2 651.0,239.5 651.3,239.7 651.7,239.9 652.0,240.0 652.4,240.1 652.7,240.1 653.1,240.1 653.5,240.0 653.8,239.9 654.2,239.7 654.5,239.5 654.9,239.3 655.2,238.9 655.6,238.6 656.0,238.2 656.3,237.8 656.7,237.3 657.0,236.7 657.4,236.2 657.8,235.5 658.1,234.9 658.5,234.1 658.8,233.4 659.2,232.6 659.5,231.8 659.9,230.9 660.3,230.0 660.6,229.0 661.0,228.0 661.3,227.0 661.7,225.9 662.0,224.8 662.4,223.7 662.8,222.5 663.1,221.4 663.5,220.2 663.8,218.9 664.2,217.7 664.6,216.4 664.9,215.1 665.3,213.8 665.6,212.5 666.0,211.2 666.3,209.9 666.7,208.5 667.1,207.2 667.4,205.9 667.8,204.6 668.1,203.3 668.5,202.0 668.8,200.7 669.2,199.4 669.6,198.1 669.9,196.9 670.3,195.7 670.6,194.5 671.0,193.3 671.4,192.2 671.7,191.1 672.1,190.0 672.4,188.9 672.8,187.9 673.1,187.0 673.5,186.0 673.9,185.1 674.2,184.3 674.6,183.5 674.9,182.7 675.3,182.0 675.6,181.3 676.0,180.6 676.4,180.0 676.7,179.5 677.1,179.0 677.4,178.5 677.8,178.1 678.2,177.7 678.5,177.4 678.9,177.1 679.2,176.9 679.6,176.7" fill="none" stroke="#c69a45" stroke-width="1.2"/><line x1="634.1" y1="244.3" x2="645.3" y2="244.3" stroke="#555" stroke-width="1"/><line x1="634.1" y1="253.4" x2="645.3" y2="253.4" stroke="#4a8cc0" stroke-width="1"/><line x1="634.1" y1="262" x2="645.3" y2="262" stroke="#c69a45" stroke-width="1"/><text x="647.1" y="246.3" font-size="6.2" fill="#333" text-anchor="start" font-family='"Liberation Serif", serif' font-weight="bold" textLength="31.7" lengthAdjust="spacingAndGlyphs" >V<tspan font-size="3.6" dy="1">o</tspan><tspan dy="-1">(V</tspan><tspan font-size="3.6" dy="1">i</tspan><tspan dy="-1">=±1V)</tspan></text><text x="647.1" y="255.4" font-size="6.2" fill="#4a8cc0" text-anchor="start" font-family='"Liberation Serif", serif' font-weight="bold" textLength="31.7" lengthAdjust="spacingAndGlyphs" >V<tspan font-size="3.6" dy="1">o</tspan><tspan dy="-1">(V</tspan><tspan font-size="3.6" dy="1">i</tspan><tspan dy="-1">=±2V)</tspan></text><text x="647.1" y="264" font-size="6.2" fill="#c69a45" text-anchor="start" font-family='"Liberation Serif", serif' font-weight="bold" textLength="31.7" lengthAdjust="spacingAndGlyphs" >V<tspan font-size="3.6" dy="1">o</tspan><tspan dy="-1">(V</tspan><tspan font-size="3.6" dy="1">i</tspan><tspan dy="-1">=±3V)</tspan></text>
</svg>
</body></html>
